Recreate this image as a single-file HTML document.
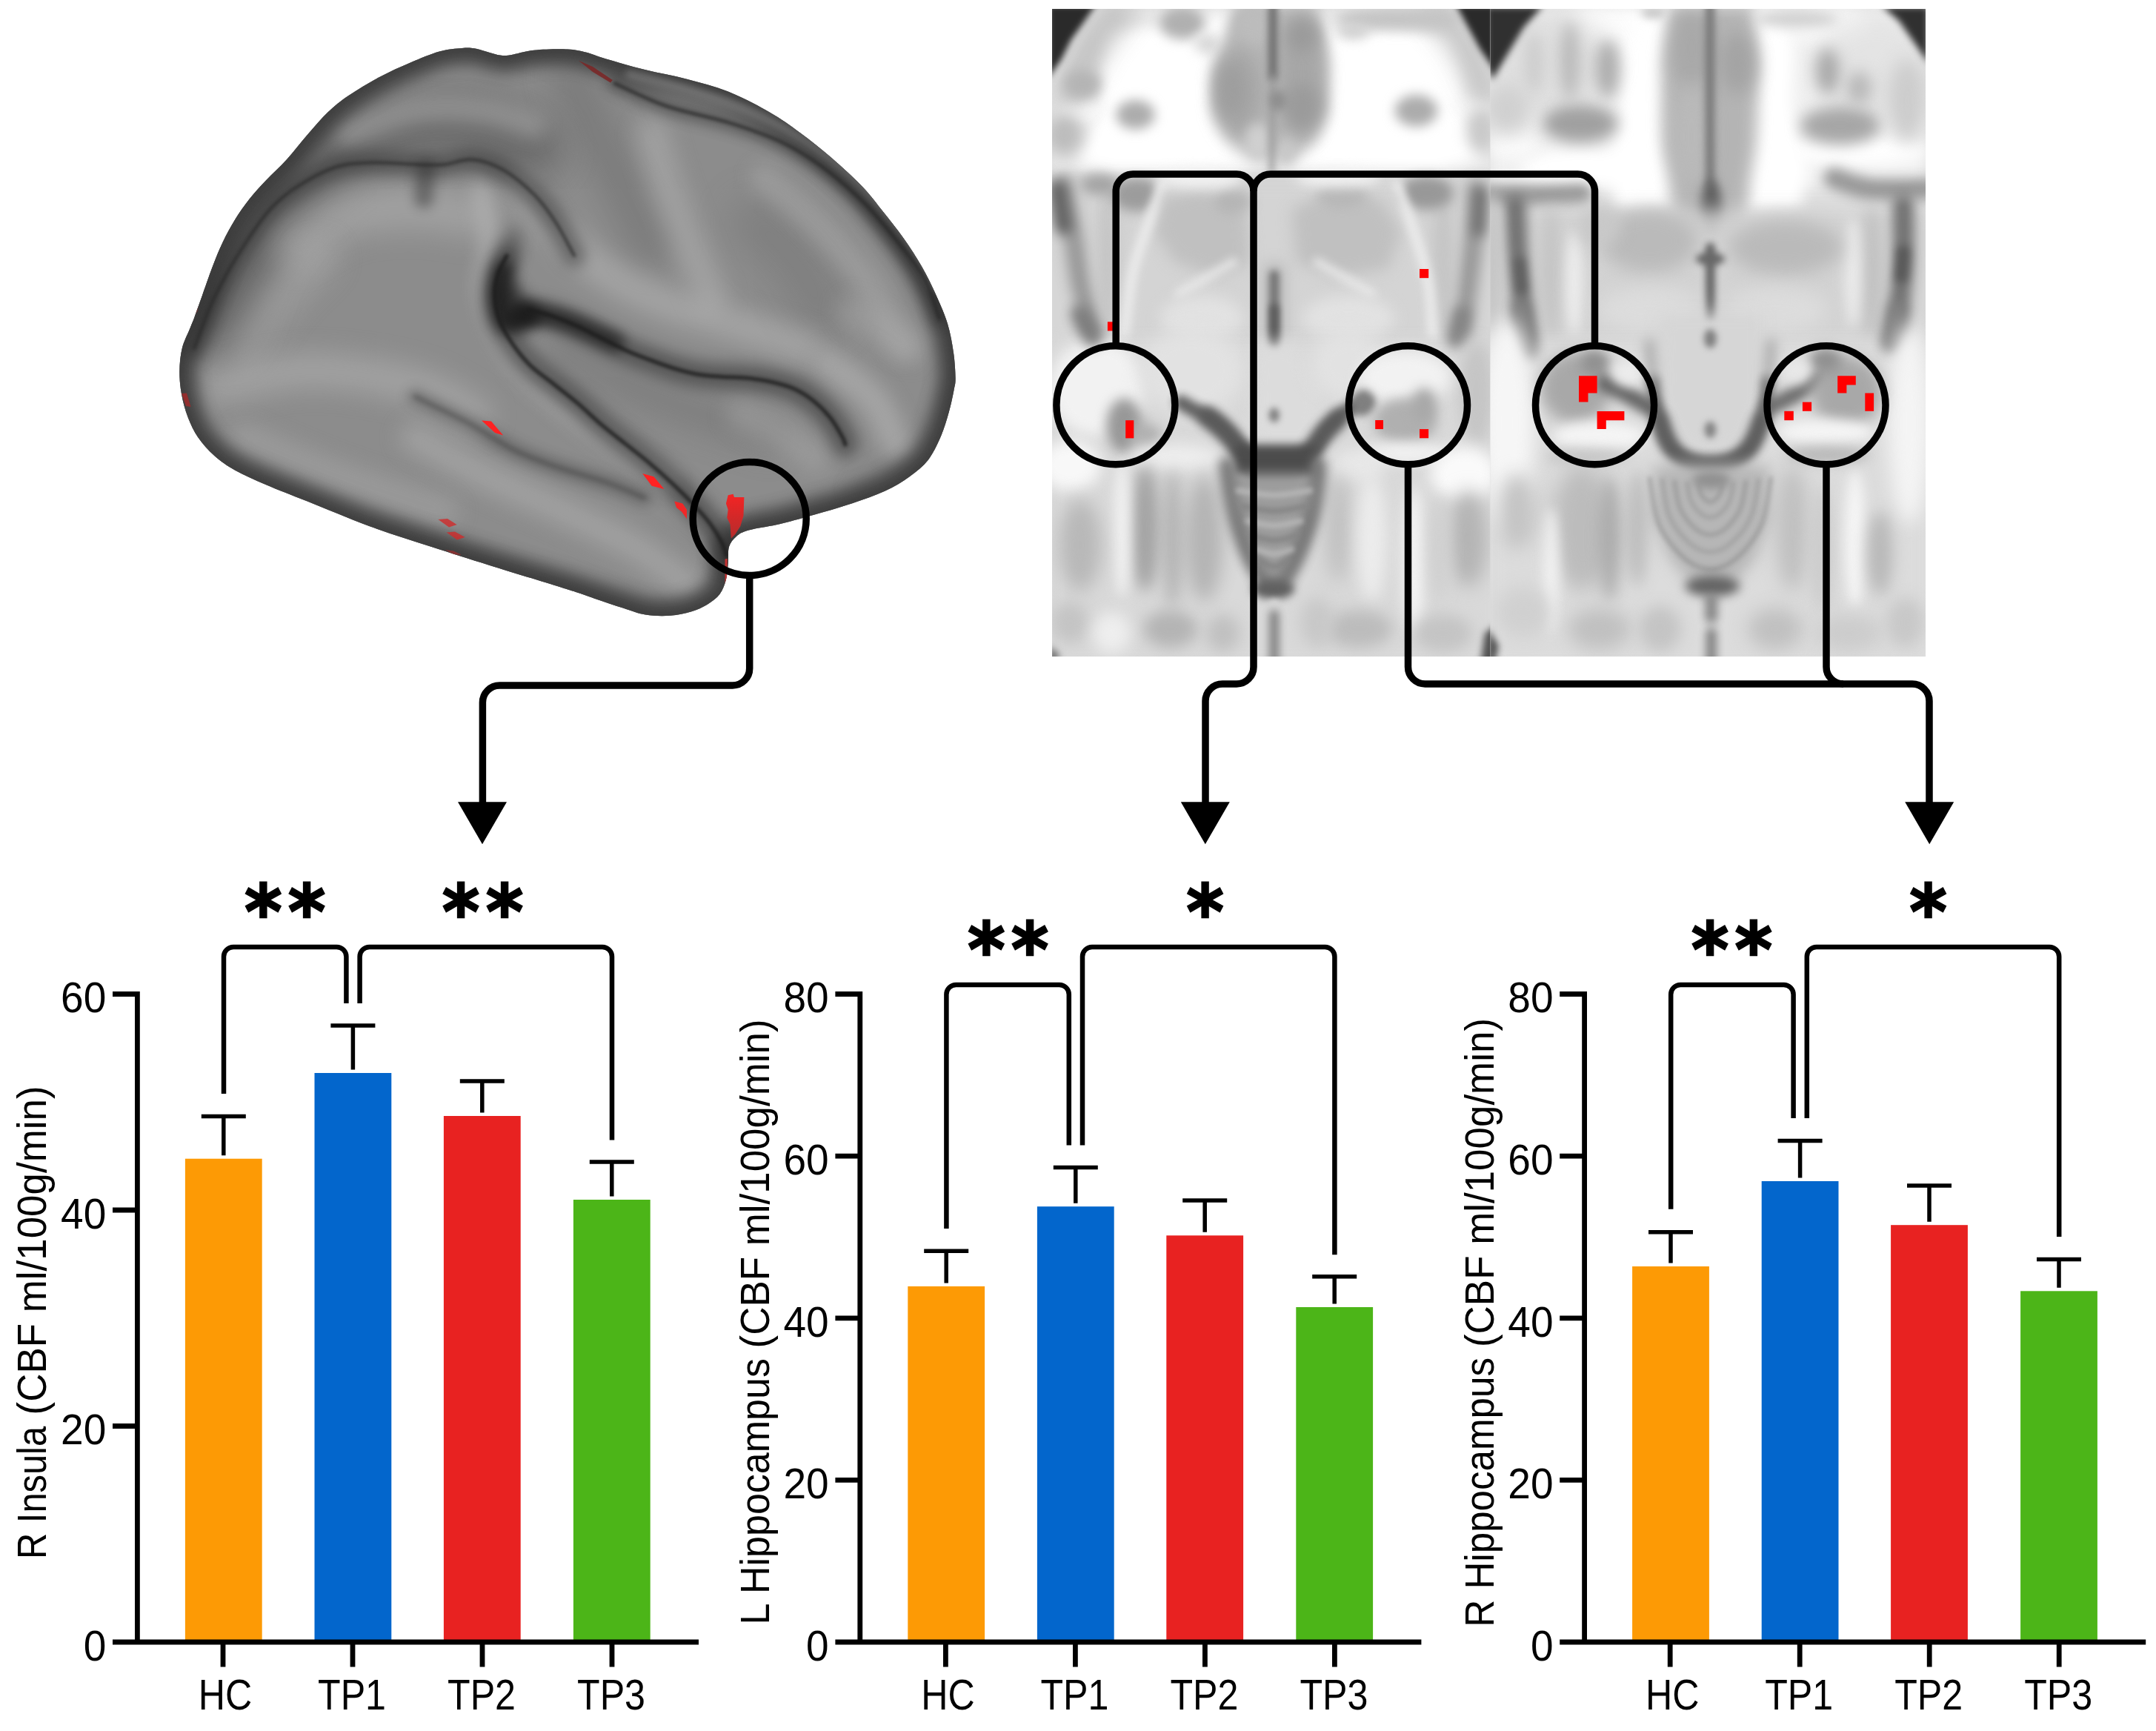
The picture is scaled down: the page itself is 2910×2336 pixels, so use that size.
<!DOCTYPE html>
<html><head><meta charset="utf-8"><title>CBF figure</title>
<style>html,body{margin:0;padding:0;background:#fff}svg{display:block}</style></head>
<body>
<svg width="2910" height="2336" viewBox="0 0 2910 2336">
<defs><filter id="b1" filterUnits="userSpaceOnUse" x="180" y="0" width="1180" height="900" color-interpolation-filters="sRGB"><feGaussianBlur stdDeviation="1"/></filter><filter id="b2" filterUnits="userSpaceOnUse" x="180" y="0" width="1180" height="900" color-interpolation-filters="sRGB"><feGaussianBlur stdDeviation="2"/></filter><filter id="b3" filterUnits="userSpaceOnUse" x="180" y="0" width="1180" height="900" color-interpolation-filters="sRGB"><feGaussianBlur stdDeviation="3"/></filter><filter id="b4" filterUnits="userSpaceOnUse" x="180" y="0" width="1180" height="900" color-interpolation-filters="sRGB"><feGaussianBlur stdDeviation="4"/></filter><filter id="b5" filterUnits="userSpaceOnUse" x="180" y="0" width="1180" height="900" color-interpolation-filters="sRGB"><feGaussianBlur stdDeviation="5"/></filter><filter id="b6" filterUnits="userSpaceOnUse" x="180" y="0" width="1180" height="900" color-interpolation-filters="sRGB"><feGaussianBlur stdDeviation="6"/></filter><filter id="b7" filterUnits="userSpaceOnUse" x="180" y="0" width="1180" height="900" color-interpolation-filters="sRGB"><feGaussianBlur stdDeviation="7"/></filter><filter id="b8" filterUnits="userSpaceOnUse" x="180" y="0" width="1180" height="900" color-interpolation-filters="sRGB"><feGaussianBlur stdDeviation="8"/></filter><filter id="b9" filterUnits="userSpaceOnUse" x="180" y="0" width="1180" height="900" color-interpolation-filters="sRGB"><feGaussianBlur stdDeviation="9"/></filter><filter id="b10" filterUnits="userSpaceOnUse" x="180" y="0" width="1180" height="900" color-interpolation-filters="sRGB"><feGaussianBlur stdDeviation="10"/></filter><filter id="b12" filterUnits="userSpaceOnUse" x="180" y="0" width="1180" height="900" color-interpolation-filters="sRGB"><feGaussianBlur stdDeviation="12"/></filter><filter id="b14" filterUnits="userSpaceOnUse" x="180" y="0" width="1180" height="900" color-interpolation-filters="sRGB"><feGaussianBlur stdDeviation="14"/></filter><filter id="b16" filterUnits="userSpaceOnUse" x="180" y="0" width="1180" height="900" color-interpolation-filters="sRGB"><feGaussianBlur stdDeviation="16"/></filter><filter id="b18" filterUnits="userSpaceOnUse" x="180" y="0" width="1180" height="900" color-interpolation-filters="sRGB"><feGaussianBlur stdDeviation="18"/></filter><filter id="b20" filterUnits="userSpaceOnUse" x="180" y="0" width="1180" height="900" color-interpolation-filters="sRGB"><feGaussianBlur stdDeviation="20"/></filter><filter id="b24" filterUnits="userSpaceOnUse" x="180" y="0" width="1180" height="900" color-interpolation-filters="sRGB"><feGaussianBlur stdDeviation="24"/></filter><filter id="b28" filterUnits="userSpaceOnUse" x="180" y="0" width="1180" height="900" color-interpolation-filters="sRGB"><feGaussianBlur stdDeviation="28"/></filter><filter id="b32" filterUnits="userSpaceOnUse" x="180" y="0" width="1180" height="900" color-interpolation-filters="sRGB"><feGaussianBlur stdDeviation="32"/></filter><filter id="b40" filterUnits="userSpaceOnUse" x="180" y="0" width="1180" height="900" color-interpolation-filters="sRGB"><feGaussianBlur stdDeviation="40"/></filter><filter id="m1" filterUnits="userSpaceOnUse" x="1360" y="-50" width="1300" height="1000" color-interpolation-filters="sRGB"><feGaussianBlur stdDeviation="1"/></filter><filter id="m2" filterUnits="userSpaceOnUse" x="1360" y="-50" width="1300" height="1000" color-interpolation-filters="sRGB"><feGaussianBlur stdDeviation="2"/></filter><filter id="m3" filterUnits="userSpaceOnUse" x="1360" y="-50" width="1300" height="1000" color-interpolation-filters="sRGB"><feGaussianBlur stdDeviation="3"/></filter><filter id="m4" filterUnits="userSpaceOnUse" x="1360" y="-50" width="1300" height="1000" color-interpolation-filters="sRGB"><feGaussianBlur stdDeviation="4"/></filter><filter id="m5" filterUnits="userSpaceOnUse" x="1360" y="-50" width="1300" height="1000" color-interpolation-filters="sRGB"><feGaussianBlur stdDeviation="5"/></filter><filter id="m6" filterUnits="userSpaceOnUse" x="1360" y="-50" width="1300" height="1000" color-interpolation-filters="sRGB"><feGaussianBlur stdDeviation="6"/></filter><filter id="m7" filterUnits="userSpaceOnUse" x="1360" y="-50" width="1300" height="1000" color-interpolation-filters="sRGB"><feGaussianBlur stdDeviation="7"/></filter><filter id="m8" filterUnits="userSpaceOnUse" x="1360" y="-50" width="1300" height="1000" color-interpolation-filters="sRGB"><feGaussianBlur stdDeviation="8"/></filter><filter id="m9" filterUnits="userSpaceOnUse" x="1360" y="-50" width="1300" height="1000" color-interpolation-filters="sRGB"><feGaussianBlur stdDeviation="9"/></filter><filter id="m10" filterUnits="userSpaceOnUse" x="1360" y="-50" width="1300" height="1000" color-interpolation-filters="sRGB"><feGaussianBlur stdDeviation="10"/></filter><filter id="m12" filterUnits="userSpaceOnUse" x="1360" y="-50" width="1300" height="1000" color-interpolation-filters="sRGB"><feGaussianBlur stdDeviation="12"/></filter><filter id="m14" filterUnits="userSpaceOnUse" x="1360" y="-50" width="1300" height="1000" color-interpolation-filters="sRGB"><feGaussianBlur stdDeviation="14"/></filter><filter id="m16" filterUnits="userSpaceOnUse" x="1360" y="-50" width="1300" height="1000" color-interpolation-filters="sRGB"><feGaussianBlur stdDeviation="16"/></filter><filter id="m18" filterUnits="userSpaceOnUse" x="1360" y="-50" width="1300" height="1000" color-interpolation-filters="sRGB"><feGaussianBlur stdDeviation="18"/></filter><filter id="m20" filterUnits="userSpaceOnUse" x="1360" y="-50" width="1300" height="1000" color-interpolation-filters="sRGB"><feGaussianBlur stdDeviation="20"/></filter><filter id="m24" filterUnits="userSpaceOnUse" x="1360" y="-50" width="1300" height="1000" color-interpolation-filters="sRGB"><feGaussianBlur stdDeviation="24"/></filter><filter id="m28" filterUnits="userSpaceOnUse" x="1360" y="-50" width="1300" height="1000" color-interpolation-filters="sRGB"><feGaussianBlur stdDeviation="28"/></filter><filter id="m32" filterUnits="userSpaceOnUse" x="1360" y="-50" width="1300" height="1000" color-interpolation-filters="sRGB"><feGaussianBlur stdDeviation="32"/></filter><filter id="m40" filterUnits="userSpaceOnUse" x="1360" y="-50" width="1300" height="1000" color-interpolation-filters="sRGB"><feGaussianBlur stdDeviation="40"/></filter></defs>
<rect width="2910" height="2336" fill="#fff"/>
<g id="brain">
<clipPath id="bc"><path d="M623.6 65.0C631.4 64.3 634.6 64.5 640.0 65.3C645.4 66.0 649.9 67.9 656.0 69.5C662.1 71.1 670.2 74.1 676.4 74.8C682.6 75.5 685.6 74.6 693.0 73.4C700.4 72.2 708.9 69.0 721.0 67.8C733.1 66.6 753.9 66.0 765.5 66.5C777.1 67.0 781.8 68.4 790.5 70.6C799.2 72.8 804.5 75.5 818.0 79.5C831.5 83.5 853.1 89.8 871.3 94.3C889.5 98.8 908.4 101.9 927.0 106.8C945.6 111.7 964.2 116.1 982.7 123.5C1001.2 130.9 1022.1 142.0 1038.3 151.3C1054.5 160.6 1066.1 169.0 1080.0 179.2C1093.9 189.4 1107.9 200.5 1121.8 212.6C1135.7 224.7 1152.0 239.4 1163.6 251.5C1175.2 263.6 1182.1 273.4 1191.4 285.0C1200.7 296.6 1210.4 308.5 1219.2 321.0C1228.0 333.5 1236.9 347.0 1244.3 360.0C1251.7 373.0 1258.0 386.2 1263.8 399.0C1269.6 411.8 1275.1 424.2 1279.0 437.0C1282.9 449.8 1285.2 463.8 1287.0 476.0C1288.8 488.2 1289.5 501.5 1289.6 510.0C1289.7 518.5 1288.9 519.2 1287.4 527.0C1285.9 534.8 1283.5 546.4 1280.5 556.9C1277.5 567.4 1274.0 579.6 1269.3 590.3C1264.6 601.0 1259.5 612.1 1252.6 620.9C1245.6 629.7 1237.3 636.2 1227.6 643.2C1217.9 650.2 1207.2 656.7 1194.2 662.7C1181.2 668.7 1166.3 673.9 1149.6 679.4C1132.9 684.9 1110.2 691.4 1094.0 696.0C1077.8 700.6 1066.1 704.0 1052.2 707.2C1038.3 710.5 1020.2 712.7 1010.5 715.5C1000.8 718.3 998.2 720.2 993.8 723.9C989.4 727.6 985.9 731.8 984.0 737.8C982.1 743.8 983.4 752.6 982.7 760.0C982.0 767.4 981.8 775.3 979.9 782.3C978.0 789.3 975.7 796.2 971.5 801.8C967.3 807.4 961.3 811.8 954.8 815.7C948.3 819.7 941.0 823.0 932.6 825.5C924.2 828.0 914.9 830.1 904.7 830.8C894.5 831.5 881.9 831.3 871.3 829.6C860.7 827.9 852.6 824.2 841.0 820.5C829.4 816.8 815.7 812.1 801.7 807.4C787.7 802.7 780.5 799.9 757.0 792.5C733.5 785.1 690.2 772.1 661.0 763.0C631.8 753.9 608.9 746.6 581.8 737.8C554.7 729.0 526.1 720.2 498.3 710.0C470.5 699.8 438.0 685.9 414.8 676.6C391.6 667.3 375.4 661.3 359.2 654.3C343.0 647.3 329.0 641.3 317.4 634.8C305.8 628.3 298.0 622.7 289.6 615.3C281.2 607.9 273.3 599.1 267.3 590.3C261.3 581.5 257.1 572.2 253.4 562.5C249.7 552.8 246.8 542.0 245.0 531.8C243.2 521.6 242.2 511.5 242.3 501.2C242.4 490.9 243.4 479.7 245.8 470.0C248.2 460.3 253.7 450.0 256.5 443.0C259.3 436.0 259.8 435.3 262.5 428.0C265.2 420.7 268.8 410.3 272.9 399.0C276.9 387.7 282.2 372.1 286.8 360.0C291.4 347.9 295.6 337.4 300.7 326.7C305.8 316.0 311.4 305.8 317.4 296.0C323.4 286.2 329.9 277.0 336.9 268.2C343.9 259.4 350.8 252.0 359.2 243.2C367.6 234.4 377.7 225.5 387.0 215.3C396.3 205.1 405.5 192.7 414.8 182.0C424.1 171.3 433.4 160.1 442.7 151.3C452.0 142.5 458.9 136.9 470.5 129.0C482.1 121.1 498.3 111.4 512.2 104.0C526.1 96.6 540.5 90.2 554.0 84.5C567.5 78.8 581.4 72.8 593.0 69.5C604.6 66.2 615.8 65.7 623.6 65.0Z"/></clipPath>
<g clip-path="url(#bc)">
<rect x="230" y="50" width="1080" height="800" fill="#8c8c8c"/>
<path d="M300.0 440.0C306.7 423.3 323.3 370.0 340.0 340.0C356.7 310.0 378.3 283.3 400.0 260.0C421.7 236.7 443.3 215.0 470.0 200.0C496.7 185.0 530.0 175.0 560.0 170.0C590.0 165.0 623.3 165.0 650.0 170.0C676.7 175.0 708.3 195.0 720.0 200.0" fill="none" stroke="#505050" stroke-width="80" stroke-linecap="round" opacity="0.55" filter="url(#b24)"/>
<path d="M770.0 100.0C775.0 111.7 788.3 145.0 800.0 170.0C811.7 195.0 826.7 223.3 840.0 250.0C853.3 276.7 873.3 316.7 880.0 330.0" fill="none" stroke="#6a6a6a" stroke-width="60" stroke-linecap="round" opacity="0.45" filter="url(#b20)"/>
<path d="M760.0 470.0C775.0 478.3 818.3 505.0 850.0 520.0C881.7 535.0 918.3 548.3 950.0 560.0C981.7 571.7 1025.0 585.0 1040.0 590.0" fill="none" stroke="#6a6a6a" stroke-width="50" stroke-linecap="round" opacity="0.35" filter="url(#b18)"/>
<path d="M1020.0 300.0C1030.0 310.0 1065.0 340.0 1080.0 360.0C1095.0 380.0 1105.0 410.0 1110.0 420.0" fill="none" stroke="#6a6a6a" stroke-width="70" stroke-linecap="round" opacity="0.35" filter="url(#b24)"/>
<path d="M500.0 735.0C533.3 744.2 640.0 773.3 700.0 790.0C760.0 806.7 833.3 827.5 860.0 835.0" fill="none" stroke="#6a6a6a" stroke-width="40" stroke-linecap="round" opacity="0.4" filter="url(#b14)"/>
<path d="M1160.0 660.0C1175.0 650.0 1229.2 623.3 1250.0 600.0C1270.8 576.7 1279.2 533.3 1285.0 520.0" fill="none" stroke="#6a6a6a" stroke-width="30" stroke-linecap="round" opacity="0.3" filter="url(#b12)"/>
<path d="M470.0 180.0C485.0 175.0 530.0 155.0 560.0 150.0C590.0 145.0 623.3 146.7 650.0 150.0C676.7 153.3 708.3 166.7 720.0 170.0" fill="none" stroke="#b4b4b4" stroke-width="34" stroke-linecap="round" opacity="0.45" filter="url(#b12)"/>
<path d="M400.0 330.0C411.7 323.3 443.3 298.3 470.0 290.0C496.7 281.7 531.7 280.0 560.0 280.0C588.3 280.0 626.7 288.3 640.0 290.0" fill="none" stroke="#b4b4b4" stroke-width="60" stroke-linecap="round" opacity="0.5" filter="url(#b18)"/>
<path d="M330.0 470.0C338.3 458.3 363.3 420.0 380.0 400.0C396.7 380.0 421.7 358.3 430.0 350.0" fill="none" stroke="#b4b4b4" stroke-width="50" stroke-linecap="round" opacity="0.4" filter="url(#b18)"/>
<path d="M650.0 260.0C651.7 271.7 659.2 306.7 660.0 330.0C660.8 353.3 650.0 375.0 655.0 400.0C660.0 425.0 674.2 456.7 690.0 480.0C705.8 503.3 726.7 520.0 750.0 540.0C773.3 560.0 805.0 581.7 830.0 600.0C855.0 618.3 888.3 641.7 900.0 650.0" fill="none" stroke="#b4b4b4" stroke-width="30" stroke-linecap="round" opacity="0.6" filter="url(#b10)"/>
<path d="M300.0 520.0C320.0 516.7 376.7 500.0 420.0 500.0C463.3 500.0 523.3 510.0 560.0 520.0C596.7 530.0 626.7 553.3 640.0 560.0" fill="none" stroke="#b4b4b4" stroke-width="50" stroke-linecap="round" opacity="0.5" filter="url(#b16)"/>
<path d="M560.0 590.0C575.0 598.3 616.7 623.3 650.0 640.0C683.3 656.7 725.0 673.3 760.0 690.0C795.0 706.7 831.7 723.3 860.0 740.0C888.3 756.7 918.3 781.7 930.0 790.0" fill="none" stroke="#b4b4b4" stroke-width="40" stroke-linecap="round" opacity="0.5" filter="url(#b14)"/>
<path d="M330.0 590.0C350.0 598.3 405.0 623.3 450.0 640.0C495.0 656.7 575.0 681.7 600.0 690.0" fill="none" stroke="#b4b4b4" stroke-width="40" stroke-linecap="round" opacity="0.35" filter="url(#b14)"/>
<path d="M760.0 320.0C770.0 328.3 796.7 355.0 820.0 370.0C843.3 385.0 870.0 398.3 900.0 410.0C930.0 421.7 968.3 430.0 1000.0 440.0C1031.7 450.0 1075.0 465.0 1090.0 470.0" fill="none" stroke="#b4b4b4" stroke-width="46" stroke-linecap="round" opacity="0.55" filter="url(#b14)"/>
<path d="M1120.0 490.0C1130.0 498.3 1165.0 521.7 1180.0 540.0C1195.0 558.3 1205.0 590.0 1210.0 600.0" fill="none" stroke="#b4b4b4" stroke-width="40" stroke-linecap="round" opacity="0.6" filter="url(#b12)"/>
<path d="M880.0 180.0C883.3 191.7 891.7 225.0 900.0 250.0C908.3 275.0 920.0 305.0 930.0 330.0C940.0 355.0 955.0 388.3 960.0 400.0" fill="none" stroke="#b4b4b4" stroke-width="44" stroke-linecap="round" opacity="0.5" filter="url(#b14)"/>
<path d="M1030.0 240.0C1041.7 250.0 1076.7 276.7 1100.0 300.0C1123.3 323.3 1150.0 351.7 1170.0 380.0C1190.0 408.3 1211.7 455.0 1220.0 470.0" fill="none" stroke="#b4b4b4" stroke-width="36" stroke-linecap="round" opacity="0.4" filter="url(#b12)"/>
<path d="M1000.0 560.0C1010.0 565.0 1043.3 580.0 1060.0 590.0C1076.7 600.0 1093.3 615.0 1100.0 620.0" fill="none" stroke="#b4b4b4" stroke-width="40" stroke-linecap="round" opacity="0.35" filter="url(#b14)"/>
<path d="M700.0 250.0C705.0 258.3 725.0 291.7 730.0 300.0" fill="none" stroke="#b4b4b4" stroke-width="40" stroke-linecap="round" opacity="0.4" filter="url(#b14)"/>
<path d="M1150.0 420.0C1163.3 428.3 1216.7 461.7 1230.0 470.0" fill="none" stroke="#b4b4b4" stroke-width="40" stroke-linecap="round" opacity="0.35" filter="url(#b14)"/>
<path d="M623.6 65.0C631.4 64.3 634.6 64.5 640.0 65.3C645.4 66.0 649.9 67.9 656.0 69.5C662.1 71.1 670.2 74.1 676.4 74.8C682.6 75.5 685.6 74.6 693.0 73.4C700.4 72.2 708.9 69.0 721.0 67.8C733.1 66.6 753.9 66.0 765.5 66.5C777.1 67.0 781.8 68.4 790.5 70.6C799.2 72.8 804.5 75.5 818.0 79.5C831.5 83.5 853.1 89.8 871.3 94.3C889.5 98.8 908.4 101.9 927.0 106.8C945.6 111.7 964.2 116.1 982.7 123.5C1001.2 130.9 1022.1 142.0 1038.3 151.3C1054.5 160.6 1066.1 169.0 1080.0 179.2C1093.9 189.4 1107.9 200.5 1121.8 212.6C1135.7 224.7 1152.0 239.4 1163.6 251.5C1175.2 263.6 1182.1 273.4 1191.4 285.0C1200.7 296.6 1210.4 308.5 1219.2 321.0C1228.0 333.5 1236.9 347.0 1244.3 360.0C1251.7 373.0 1258.0 386.2 1263.8 399.0C1269.6 411.8 1275.1 424.2 1279.0 437.0C1282.9 449.8 1285.2 463.8 1287.0 476.0C1288.8 488.2 1289.5 501.5 1289.6 510.0C1289.7 518.5 1288.9 519.2 1287.4 527.0C1285.9 534.8 1283.5 546.4 1280.5 556.9C1277.5 567.4 1274.0 579.6 1269.3 590.3C1264.6 601.0 1259.5 612.1 1252.6 620.9C1245.6 629.7 1237.3 636.2 1227.6 643.2C1217.9 650.2 1207.2 656.7 1194.2 662.7C1181.2 668.7 1166.3 673.9 1149.6 679.4C1132.9 684.9 1110.2 691.4 1094.0 696.0C1077.8 700.6 1066.1 704.0 1052.2 707.2C1038.3 710.5 1020.2 712.7 1010.5 715.5C1000.8 718.3 998.2 720.2 993.8 723.9C989.4 727.6 985.9 731.8 984.0 737.8C982.1 743.8 983.4 752.6 982.7 760.0C982.0 767.4 981.8 775.3 979.9 782.3C978.0 789.3 975.7 796.2 971.5 801.8C967.3 807.4 961.3 811.8 954.8 815.7C948.3 819.7 941.0 823.0 932.6 825.5C924.2 828.0 914.9 830.1 904.7 830.8C894.5 831.5 881.9 831.3 871.3 829.6C860.7 827.9 852.6 824.2 841.0 820.5C829.4 816.8 815.7 812.1 801.7 807.4C787.7 802.7 780.5 799.9 757.0 792.5C733.5 785.1 690.2 772.1 661.0 763.0C631.8 753.9 608.9 746.6 581.8 737.8C554.7 729.0 526.1 720.2 498.3 710.0C470.5 699.8 438.0 685.9 414.8 676.6C391.6 667.3 375.4 661.3 359.2 654.3C343.0 647.3 329.0 641.3 317.4 634.8C305.8 628.3 298.0 622.7 289.6 615.3C281.2 607.9 273.3 599.1 267.3 590.3C261.3 581.5 257.1 572.2 253.4 562.5C249.7 552.8 246.8 542.0 245.0 531.8C243.2 521.6 242.2 511.5 242.3 501.2C242.4 490.9 243.4 479.7 245.8 470.0C248.2 460.3 253.7 450.0 256.5 443.0C259.3 436.0 259.8 435.3 262.5 428.0C265.2 420.7 268.8 410.3 272.9 399.0C276.9 387.7 282.2 372.1 286.8 360.0C291.4 347.9 295.6 337.4 300.7 326.7C305.8 316.0 311.4 305.8 317.4 296.0C323.4 286.2 329.9 277.0 336.9 268.2C343.9 259.4 350.8 252.0 359.2 243.2C367.6 234.4 377.7 225.5 387.0 215.3C396.3 205.1 405.5 192.7 414.8 182.0C424.1 171.3 433.4 160.1 442.7 151.3C452.0 142.5 458.9 136.9 470.5 129.0C482.1 121.1 498.3 111.4 512.2 104.0C526.1 96.6 540.5 90.2 554.0 84.5C567.5 78.8 581.4 72.8 593.0 69.5C604.6 66.2 615.8 65.7 623.6 65.0Z" fill="none" stroke="#383838" stroke-width="44" filter="url(#b10)" opacity="0.85"/>
<path d="M623.6 65.0C631.4 64.3 634.6 64.5 640.0 65.3C645.4 66.0 649.9 67.9 656.0 69.5C662.1 71.1 670.2 74.1 676.4 74.8C682.6 75.5 685.6 74.6 693.0 73.4C700.4 72.2 708.9 69.0 721.0 67.8C733.1 66.6 753.9 66.0 765.5 66.5C777.1 67.0 781.8 68.4 790.5 70.6C799.2 72.8 804.5 75.5 818.0 79.5C831.5 83.5 853.1 89.8 871.3 94.3C889.5 98.8 908.4 101.9 927.0 106.8C945.6 111.7 964.2 116.1 982.7 123.5C1001.2 130.9 1022.1 142.0 1038.3 151.3C1054.5 160.6 1066.1 169.0 1080.0 179.2C1093.9 189.4 1107.9 200.5 1121.8 212.6C1135.7 224.7 1152.0 239.4 1163.6 251.5C1175.2 263.6 1182.1 273.4 1191.4 285.0C1200.7 296.6 1210.4 308.5 1219.2 321.0C1228.0 333.5 1236.9 347.0 1244.3 360.0C1251.7 373.0 1258.0 386.2 1263.8 399.0C1269.6 411.8 1275.1 424.2 1279.0 437.0C1282.9 449.8 1285.2 463.8 1287.0 476.0C1288.8 488.2 1289.5 501.5 1289.6 510.0C1289.7 518.5 1288.9 519.2 1287.4 527.0C1285.9 534.8 1283.5 546.4 1280.5 556.9C1277.5 567.4 1274.0 579.6 1269.3 590.3C1264.6 601.0 1259.5 612.1 1252.6 620.9C1245.6 629.7 1237.3 636.2 1227.6 643.2C1217.9 650.2 1207.2 656.7 1194.2 662.7C1181.2 668.7 1166.3 673.9 1149.6 679.4C1132.9 684.9 1110.2 691.4 1094.0 696.0C1077.8 700.6 1066.1 704.0 1052.2 707.2C1038.3 710.5 1020.2 712.7 1010.5 715.5C1000.8 718.3 998.2 720.2 993.8 723.9C989.4 727.6 985.9 731.8 984.0 737.8C982.1 743.8 983.4 752.6 982.7 760.0C982.0 767.4 981.8 775.3 979.9 782.3C978.0 789.3 975.7 796.2 971.5 801.8C967.3 807.4 961.3 811.8 954.8 815.7C948.3 819.7 941.0 823.0 932.6 825.5C924.2 828.0 914.9 830.1 904.7 830.8C894.5 831.5 881.9 831.3 871.3 829.6C860.7 827.9 852.6 824.2 841.0 820.5C829.4 816.8 815.7 812.1 801.7 807.4C787.7 802.7 780.5 799.9 757.0 792.5C733.5 785.1 690.2 772.1 661.0 763.0C631.8 753.9 608.9 746.6 581.8 737.8C554.7 729.0 526.1 720.2 498.3 710.0C470.5 699.8 438.0 685.9 414.8 676.6C391.6 667.3 375.4 661.3 359.2 654.3C343.0 647.3 329.0 641.3 317.4 634.8C305.8 628.3 298.0 622.7 289.6 615.3C281.2 607.9 273.3 599.1 267.3 590.3C261.3 581.5 257.1 572.2 253.4 562.5C249.7 552.8 246.8 542.0 245.0 531.8C243.2 521.6 242.2 511.5 242.3 501.2C242.4 490.9 243.4 479.7 245.8 470.0C248.2 460.3 253.7 450.0 256.5 443.0C259.3 436.0 259.8 435.3 262.5 428.0C265.2 420.7 268.8 410.3 272.9 399.0C276.9 387.7 282.2 372.1 286.8 360.0C291.4 347.9 295.6 337.4 300.7 326.7C305.8 316.0 311.4 305.8 317.4 296.0C323.4 286.2 329.9 277.0 336.9 268.2C343.9 259.4 350.8 252.0 359.2 243.2C367.6 234.4 377.7 225.5 387.0 215.3C396.3 205.1 405.5 192.7 414.8 182.0C424.1 171.3 433.4 160.1 442.7 151.3C452.0 142.5 458.9 136.9 470.5 129.0C482.1 121.1 498.3 111.4 512.2 104.0C526.1 96.6 540.5 90.2 554.0 84.5C567.5 78.8 581.4 72.8 593.0 69.5C604.6 66.2 615.8 65.7 623.6 65.0Z" fill="none" stroke="#404040" stroke-width="10" filter="url(#b3)" opacity="0.7"/>
<path d="M850.0 101.0C863.3 104.5 903.3 113.8 930.0 122.0C956.7 130.2 986.3 140.0 1010.0 150.0C1033.7 160.0 1051.7 169.7 1072.0 182.0C1092.3 194.3 1113.5 209.0 1132.0 224.0C1150.5 239.0 1167.2 255.0 1183.0 272.0C1198.8 289.0 1214.2 306.7 1227.0 326.0C1239.8 345.3 1254.5 377.7 1260.0 388.0" fill="none" stroke="#8c8c8c" stroke-width="13" stroke-linecap="round" opacity="0.55" filter="url(#b5)"/>
<path d="M262.0 470.0C266.7 458.3 278.7 423.3 290.0 400.0C301.3 376.7 315.7 351.5 330.0 330.0C344.3 308.5 357.2 287.8 376.0 271.0C394.8 254.2 422.3 237.9 442.7 229.3C463.1 220.7 477.4 220.7 498.3 219.5C519.2 218.3 550.9 221.9 567.9 222.3C584.9 222.7 588.4 223.2 600.0 222.0C611.6 220.8 624.3 214.1 637.5 215.3C650.7 216.5 665.3 221.4 679.2 229.3C693.1 237.2 709.2 250.9 721.0 262.7C732.8 274.5 741.0 286.3 750.0 300.0C759.0 313.7 770.8 337.5 775.0 345.0" fill="none" stroke="#2c2c2c" stroke-width="30" stroke-linecap="round" opacity="0.5" filter="url(#b10)"/>
<path d="M829.6 112.4C841.2 117.5 873.5 134.2 899.0 143.0C924.5 151.8 957.2 157.3 982.7 165.2C1008.2 173.1 1031.1 180.6 1052.0 190.3C1072.9 200.1 1089.3 210.2 1107.9 223.7C1126.5 237.1 1147.4 255.2 1163.6 271.0C1179.8 286.8 1191.4 301.1 1205.3 318.3C1219.2 335.5 1236.5 355.4 1247.0 374.0C1257.5 392.6 1264.5 420.7 1268.0 430.0" fill="none" stroke="#2c2c2c" stroke-width="22" stroke-linecap="round" opacity="0.45" filter="url(#b8)"/>
<path d="M684.0 345.0C682.1 349.0 675.3 360.5 672.6 368.8C669.9 377.1 668.0 385.1 668.0 394.8C668.0 404.6 669.1 416.5 672.6 427.3C676.1 438.1 681.8 448.9 688.8 459.7C695.8 470.5 705.0 482.4 714.8 492.2C724.5 501.9 736.5 509.5 747.3 518.2C758.1 526.9 768.9 535.0 779.7 544.2C790.5 553.4 801.4 564.2 812.2 573.4C823.0 582.6 833.9 590.8 844.7 599.4C855.5 608.0 866.3 616.1 877.1 625.3C887.9 634.5 899.9 645.3 909.6 654.5C919.4 663.7 927.5 671.8 935.6 680.5C943.7 689.2 951.8 697.8 958.3 706.5C964.8 715.2 970.7 725.2 974.5 732.5C978.3 739.8 979.9 747.1 981.0 750.0" fill="none" stroke="#2c2c2c" stroke-width="34" stroke-linecap="round" opacity="0.55" filter="url(#b10)"/>
<path d="M712.0 418.0C714.2 418.5 719.1 419.4 725.0 421.0C730.9 422.6 738.2 424.1 747.3 427.3C756.4 430.5 768.9 435.4 779.7 440.3C790.5 445.2 801.4 451.1 812.2 456.5C823.0 461.9 833.9 467.8 844.7 472.7C855.5 477.6 866.3 481.6 877.1 485.7C887.9 489.8 898.8 493.9 909.6 497.1C920.4 500.4 931.3 503.3 942.1 505.2C952.9 507.1 963.7 507.6 974.5 508.4C985.3 509.2 996.2 509.0 1007.0 510.1C1017.8 511.2 1028.7 512.6 1039.5 515.0C1050.3 517.4 1062.2 520.4 1071.9 524.7C1081.6 529.0 1089.8 534.4 1097.9 540.9C1106.0 547.4 1114.1 555.5 1120.6 563.6C1127.1 571.7 1133.5 583.5 1136.9 589.6C1140.3 595.7 1140.3 598.3 1141.0 600.0" fill="none" stroke="#2c2c2c" stroke-width="34" stroke-linecap="round" opacity="0.55" filter="url(#b10)"/>
<path d="M560.0 535.0C563.6 536.8 568.9 539.4 581.8 545.8C594.7 552.2 619.0 563.4 637.5 573.6C656.0 583.8 674.6 597.7 693.1 607.0C711.6 616.3 727.6 621.8 748.8 629.2C769.9 636.6 799.8 644.4 820.0 651.5C840.2 658.6 861.7 668.6 870.0 672.0" fill="none" stroke="#2c2c2c" stroke-width="20" stroke-linecap="round" opacity="0.35" filter="url(#b8)"/>
<path d="M575.0 228.0C574.7 231.7 573.5 243.3 573.0 250.0C572.5 256.7 572.2 265.0 572.0 268.0" fill="none" stroke="#2c2c2c" stroke-width="26" stroke-linecap="round" opacity="0.45" filter="url(#b8)"/>
<path d="M693.0 320.0C691.8 323.3 687.2 336.7 686.0 340.0" fill="none" stroke="#2c2c2c" stroke-width="26" stroke-linecap="round" opacity="0.3" filter="url(#b10)"/>
<path d="M680.0 365.0C679.0 370.8 673.3 388.3 674.0 400.0C674.7 411.7 677.2 430.3 684.0 435.0C690.8 439.7 709.8 429.2 715.0 428.0" fill="none" stroke="#161616" stroke-width="30" stroke-linecap="round" opacity="0.8" filter="url(#b9)"/>
<path d="M690.0 395.0C691.7 400.0 698.3 420.0 700.0 425.0" fill="none" stroke="#161616" stroke-width="30" stroke-linecap="round" opacity="0.6" filter="url(#b10)"/>
<path d="M705.0 420.0C714.2 422.0 739.2 425.0 760.0 432.0C780.8 439.0 818.3 457.0 830.0 462.0" fill="none" stroke="#181818" stroke-width="26" stroke-linecap="round" opacity="0.65" filter="url(#b8)"/>
<path d="M262.0 470.0C266.7 458.3 278.7 423.3 290.0 400.0C301.3 376.7 315.7 351.5 330.0 330.0C344.3 308.5 357.2 287.8 376.0 271.0C394.8 254.2 422.3 237.9 442.7 229.3C463.1 220.7 477.4 220.7 498.3 219.5C519.2 218.3 550.9 221.9 567.9 222.3C584.9 222.7 588.4 223.2 600.0 222.0C611.6 220.8 624.3 214.1 637.5 215.3C650.7 216.5 665.3 221.4 679.2 229.3C693.1 237.2 709.2 250.9 721.0 262.7C732.8 274.5 741.0 286.3 750.0 300.0C759.0 313.7 770.8 337.5 775.0 345.0" fill="none" stroke="#262626" stroke-width="4" stroke-linecap="round" opacity="0.7" filter="url(#b2)"/>
<path d="M829.6 112.4C841.2 117.5 873.5 134.2 899.0 143.0C924.5 151.8 957.2 157.3 982.7 165.2C1008.2 173.1 1031.1 180.6 1052.0 190.3C1072.9 200.1 1089.3 210.2 1107.9 223.7C1126.5 237.1 1147.4 255.2 1163.6 271.0C1179.8 286.8 1191.4 301.1 1205.3 318.3C1219.2 335.5 1236.5 355.4 1247.0 374.0C1257.5 392.6 1264.5 420.7 1268.0 430.0" fill="none" stroke="#262626" stroke-width="4" stroke-linecap="round" opacity="0.8" filter="url(#b2)"/>
<path d="M684.0 345.0C682.1 349.0 675.3 360.5 672.6 368.8C669.9 377.1 668.0 385.1 668.0 394.8C668.0 404.6 669.1 416.5 672.6 427.3C676.1 438.1 681.8 448.9 688.8 459.7C695.8 470.5 705.0 482.4 714.8 492.2C724.5 501.9 736.5 509.5 747.3 518.2C758.1 526.9 768.9 535.0 779.7 544.2C790.5 553.4 801.4 564.2 812.2 573.4C823.0 582.6 833.9 590.8 844.7 599.4C855.5 608.0 866.3 616.1 877.1 625.3C887.9 634.5 899.9 645.3 909.6 654.5C919.4 663.7 927.5 671.8 935.6 680.5C943.7 689.2 951.8 697.8 958.3 706.5C964.8 715.2 970.7 725.2 974.5 732.5C978.3 739.8 979.9 747.1 981.0 750.0" fill="none" stroke="#1c1c1c" stroke-width="5" stroke-linecap="round" opacity="0.85" filter="url(#b2)"/>
<path d="M712.0 418.0C714.2 418.5 719.1 419.4 725.0 421.0C730.9 422.6 738.2 424.1 747.3 427.3C756.4 430.5 768.9 435.4 779.7 440.3C790.5 445.2 801.4 451.1 812.2 456.5C823.0 461.9 833.9 467.8 844.7 472.7C855.5 477.6 866.3 481.6 877.1 485.7C887.9 489.8 898.8 493.9 909.6 497.1C920.4 500.4 931.3 503.3 942.1 505.2C952.9 507.1 963.7 507.6 974.5 508.4C985.3 509.2 996.2 509.0 1007.0 510.1C1017.8 511.2 1028.7 512.6 1039.5 515.0C1050.3 517.4 1062.2 520.4 1071.9 524.7C1081.6 529.0 1089.8 534.4 1097.9 540.9C1106.0 547.4 1114.1 555.5 1120.6 563.6C1127.1 571.7 1133.5 583.5 1136.9 589.6C1140.3 595.7 1140.3 598.3 1141.0 600.0" fill="none" stroke="#1c1c1c" stroke-width="5" stroke-linecap="round" opacity="0.85" filter="url(#b2)"/>
<path d="M560.0 535.0C563.6 536.8 568.9 539.4 581.8 545.8C594.7 552.2 619.0 563.4 637.5 573.6C656.0 583.8 674.6 597.7 693.1 607.0C711.6 616.3 727.6 621.8 748.8 629.2C769.9 636.6 799.8 644.4 820.0 651.5C840.2 658.6 861.7 668.6 870.0 672.0" fill="none" stroke="#2a2a2a" stroke-width="5" stroke-linecap="round" opacity="0.35" filter="url(#b3)"/>
<linearGradient id="rg" x1="0" y1="0" x2="0" y2="1"><stop offset="0" stop-color="#f42424"/><stop offset="1" stop-color="#b42c2c"/></linearGradient>
<path d="M979.9 679.4L982.7 668.2L989.6 666.8L991 671L1004.4 671L1003.5 696L999.4 710L992.4 721L986.8 726.7L985.4 707.2L981.3 698.8L982.7 687.7Z" fill="url(#rg)"/>
<path d="M867.2 639L882.5 643.2L896.4 659.9L879.7 655.7Z" fill="#ff2222"/>
<path d="M910.3 676.6L921.4 679.4L927 687.7L927 700.2L920 690.5L913 685Z" fill="#f02828"/>
<path d="M978.5 754.5L981.8 754L981.3 784L978.6 788Z" fill="#c03030"/>
<path d="M650 567.5L663 568.5L679.2 587.5L668 584Z" fill="#ff2222"/>
<path d="M591.5 701L604 700L616.6 708L606 711.5Z" fill="#d02a2a" opacity=".8"/>
<path d="M602.7 718.5L614 717.5L627.7 725L617 728.5Z" fill="#d02a2a" opacity=".8"/>
<path d="M601 742L612 743.5L623.6 749L612 748Z" fill="#b02a2a" opacity=".6"/>
<path d="M245 531L252 530.5L257.6 549L251 548Z" fill="#a02a2a" opacity=".85"/>
<path d="M780.9 81.7L800 90L826.8 108L824 111.5L800 97Z" fill="#7a2828" opacity=".9"/>
<path d="M264 408L268 404L267 420L263.5 424Z" fill="#803030" opacity=".6"/>
</g>
</g>
<g id="mri">
<clipPath id="mcl"><rect x="1420" y="12" width="593" height="874"/></clipPath>
<clipPath id="mcr"><rect x="2011.5" y="12" width="587.5" height="874"/></clipPath>
<g clip-path="url(#mcl)"><rect x="1420" y="12" width="592" height="874" fill="#d6d6d6"/>
<rect x="1414.5" y="6.5" width="604.1" height="225.2" fill="#e6e6e6" opacity="1" filter="url(#m6)"/>
<polygon points="1488.6,36.7 1562.8,47.7 1639.7,20.2 1667.1,14.7 1656.1,61.4 1634.2,102.6 1639.7,165.8 1667.1,209.7 1711.0,228.9 1502.4,231.7 1452.9,220.7 1474.9,165.8 1488.6,102.6" fill="#ffffff" opacity="1" filter="url(#m10)"/>
<polygon points="1776.9,14.7 1804.4,39.5 1886.8,50.4 1963.7,42.2 1977.4,102.6 1985.6,165.8 2002.1,215.2 1941.7,231.7 1722.0,228.9 1766.0,204.2 1790.7,165.8 1793.4,102.6" fill="#ffffff" opacity="1" filter="url(#m10)"/>
<ellipse cx="1562.8" cy="102.6" rx="71.4" ry="65.9" fill="#ffffff" opacity="1" filter="url(#m12)"/>
<ellipse cx="1873.0" cy="102.6" rx="76.9" ry="65.9" fill="#ffffff" opacity="1" filter="url(#m12)"/>
<ellipse cx="1461.2" cy="149.3" rx="30.2" ry="16.5" fill="#fafafa" opacity="1" filter="url(#m8)"/>
<ellipse cx="1985.6" cy="143.8" rx="27.5" ry="13.7" fill="#fafafa" opacity="1" filter="url(#m8)"/>
<path d="M1510.6 14.7C1506.0 20.2 1491.4 35.8 1483.2 47.7C1474.9 59.6 1467.6 72.9 1461.2 86.1C1454.8 99.4 1447.5 120.5 1444.7 127.3" fill="none" stroke="#bcbcbc" stroke-width="41.2" stroke-linecap="round" stroke-linejoin="round" opacity="0.9" filter="url(#m16)"/>
<path d="M1936.2 14.7C1941.2 20.2 1957.7 35.8 1966.4 47.7C1975.1 59.6 1982.0 72.9 1988.4 86.1C1994.8 99.4 2002.1 120.5 2004.8 127.3" fill="none" stroke="#c0c0c0" stroke-width="38.4" stroke-linecap="round" stroke-linejoin="round" opacity="0.9" filter="url(#m16)"/>
<ellipse cx="1461.2" cy="113.6" rx="24.7" ry="19.2" fill="#b4b4b4" opacity="1" filter="url(#m8)"/>
<ellipse cx="1436.5" cy="182.2" rx="24.7" ry="27.5" fill="#bcbcbc" opacity="1" filter="url(#m10)"/>
<ellipse cx="1999.4" cy="176.7" rx="19.2" ry="30.2" fill="#c8c8c8" opacity="1" filter="url(#m10)"/>
<ellipse cx="1595.7" cy="31.2" rx="30.2" ry="22.0" fill="#b0b0b0" opacity="1" filter="url(#m8)"/>
<ellipse cx="1628.7" cy="58.7" rx="16.5" ry="13.7" fill="#d8d8d8" opacity="1" filter="url(#m8)"/>
<ellipse cx="1886.8" cy="25.7" rx="82.4" ry="15.1" fill="#c4c4c4" opacity="1" filter="url(#m8)"/>
<ellipse cx="1826.4" cy="42.2" rx="22.0" ry="11.0" fill="#d0d0d0" opacity="1" filter="url(#m8)"/>
<polygon points="1667.1,6.5 1776.9,6.5 1790.7,80.6 1789.3,149.3 1774.2,187.7 1744.0,209.7 1694.6,209.7 1661.6,187.7 1639.7,149.3 1638.3,94.4 1650.6,61.4" fill="#b6b6b6" opacity="1" filter="url(#m10)"/>
<ellipse cx="1691.8" cy="34.0" rx="24.7" ry="30.2" fill="#bcbcbc" opacity="1" filter="url(#m8)"/>
<ellipse cx="1671.2" cy="124.6" rx="31.6" ry="60.4" fill="#a6a6a6" opacity="1" filter="url(#m12)"/>
<ellipse cx="1661.6" cy="121.8" rx="19.2" ry="35.7" fill="#9c9c9c" opacity="0.8" filter="url(#m10)"/>
<ellipse cx="1756.4" cy="102.6" rx="30.2" ry="82.4" fill="#a6a6a6" opacity="1" filter="url(#m12)"/>
<ellipse cx="1757.7" cy="47.7" rx="22.0" ry="22.0" fill="#989898" opacity="0.8" filter="url(#m10)"/>
<ellipse cx="1757.7" cy="143.8" rx="24.7" ry="30.2" fill="#989898" opacity="0.8" filter="url(#m10)"/>
<ellipse cx="1697.3" cy="190.5" rx="16.5" ry="24.7" fill="#d0d0d0" opacity="1" filter="url(#m8)"/>
<ellipse cx="1735.8" cy="204.2" rx="13.7" ry="19.2" fill="#c8c8c8" opacity="1" filter="url(#m8)"/>
<path d="M1717.9 9.3C1717.9 24.8 1717.9 87.1 1717.9 102.6" fill="none" stroke="#6c6c6c" stroke-width="12.1" stroke-linecap="round" stroke-linejoin="round" opacity="0.95" filter="url(#m5)"/>
<path d="M1717.9 102.6C1717.7 124.1 1716.8 210.2 1716.5 231.7" fill="none" stroke="#989898" stroke-width="8.2" stroke-linecap="round" stroke-linejoin="round" opacity="0.8" filter="url(#m5)"/>
<ellipse cx="1724.8" cy="135.6" rx="11.0" ry="13.7" fill="#888888" opacity="0.8" filter="url(#m6)"/>
<ellipse cx="1532.6" cy="154.8" rx="26.1" ry="19.8" fill="#acacac" opacity="1" filter="url(#m8)"/>
<ellipse cx="1911.5" cy="149.3" rx="28.8" ry="21.4" fill="#acacac" opacity="1" filter="url(#m8)"/>
<polygon points="1414.5,6.5 1479.0,6.5 1463.9,28.5 1446.1,53.2 1432.4,80.6 1414.5,105.4" fill="#2a2a2a" opacity="1" filter="url(#m4)"/>
<polygon points="1965.0,6.5 2018.6,6.5 2018.6,97.1 1998.0,66.9 1981.5,36.7" fill="#2a2a2a" opacity="1" filter="url(#m4)"/>
<rect x="1480.7" y="243.4" width="495.2" height="220.7" fill="#d4d4d4" opacity="1" filter="url(#m10)"/>
<path d="M1435.5 249.0C1436.4 254.7 1438.8 270.2 1441.1 283.0C1443.5 295.7 1446.8 308.9 1449.6 325.4C1452.4 341.9 1454.8 365.5 1458.1 382.0C1461.4 398.5 1466.1 411.7 1469.4 424.4C1472.7 437.2 1476.5 452.7 1477.9 458.4" fill="none" stroke="#808080" stroke-width="25.5" stroke-linecap="round" stroke-linejoin="round" opacity="0.75" filter="url(#m9)"/>
<path d="M1427.0 254.7C1428.4 263.2 1434.1 297.1 1435.5 305.6" fill="none" stroke="#505050" stroke-width="22.6" stroke-linecap="round" stroke-linejoin="round" opacity="0.8" filter="url(#m8)"/>
<path d="M1992.9 254.7C1992.4 264.1 1992.0 290.0 1990.1 311.3C1988.2 332.5 1984.7 357.5 1981.6 382.0C1978.5 406.5 1973.3 445.7 1971.7 458.4" fill="none" stroke="#808080" stroke-width="25.5" stroke-linecap="round" stroke-linejoin="round" opacity="0.75" filter="url(#m9)"/>
<path d="M1998.6 260.3C1998.1 268.8 1996.2 302.8 1995.7 311.3" fill="none" stroke="#585858" stroke-width="17.0" stroke-linecap="round" stroke-linejoin="round" opacity="0.7" filter="url(#m8)"/>
<ellipse cx="1494.9" cy="353.7" rx="14.1" ry="99.0" fill="#c0c0c0" opacity="0.8" filter="url(#m10)"/>
<ellipse cx="1947.6" cy="353.7" rx="14.1" ry="99.0" fill="#c0c0c0" opacity="0.8" filter="url(#m10)"/>
<ellipse cx="1534.5" cy="263.2" rx="34.0" ry="22.6" fill="#9c9c9c" opacity="1" filter="url(#m8)"/>
<ellipse cx="1925.0" cy="260.3" rx="36.8" ry="22.6" fill="#989898" opacity="1" filter="url(#m8)"/>
<ellipse cx="1483.6" cy="249.0" rx="25.5" ry="14.1" fill="#989898" opacity="0.8" filter="url(#m8)"/>
<polygon points="1568.5,268.8 1625.1,254.7 1681.6,283.0 1687.3,353.7 1642.0,373.5 1585.4,353.7 1557.1,311.3" fill="#c0c0c0" opacity="1" filter="url(#m10)"/>
<polygon points="1743.9,283.0 1800.5,254.7 1862.7,268.8 1891.0,311.3 1874.1,362.2 1806.2,373.5 1749.6,353.7" fill="#c0c0c0" opacity="1" filter="url(#m10)"/>
<ellipse cx="1664.7" cy="271.6" rx="25.5" ry="17.0" fill="#b0b0b0" opacity="0.8" filter="url(#m8)"/>
<ellipse cx="1811.8" cy="263.2" rx="34.0" ry="17.0" fill="#b4b4b4" opacity="0.8" filter="url(#m8)"/>
<path d="M1568.5 249.0C1565.6 257.0 1558.1 277.3 1551.5 297.1C1544.9 316.9 1534.5 341.9 1528.8 367.9C1523.2 393.8 1519.4 438.6 1517.5 452.7" fill="none" stroke="#eeeeee" stroke-width="14.1" stroke-linecap="round" stroke-linejoin="round" opacity="0.9" filter="url(#m6)"/>
<path d="M1885.4 249.0C1889.2 259.4 1900.9 289.1 1908.0 311.3C1915.1 333.4 1923.6 358.4 1927.8 382.0C1932.1 405.6 1932.5 441.0 1933.5 452.7" fill="none" stroke="#eeeeee" stroke-width="14.1" stroke-linecap="round" stroke-linejoin="round" opacity="0.9" filter="url(#m6)"/>
<path d="M1591.1 396.2C1603.4 389.1 1652.4 360.8 1664.7 353.7" fill="none" stroke="#eeeeee" stroke-width="11.3" stroke-linecap="round" stroke-linejoin="round" opacity="0.8" filter="url(#m6)"/>
<path d="M1777.9 353.7C1790.1 360.8 1839.2 389.1 1851.4 396.2" fill="none" stroke="#eeeeee" stroke-width="11.3" stroke-linecap="round" stroke-linejoin="round" opacity="0.8" filter="url(#m6)"/>
<ellipse cx="1622.2" cy="430.1" rx="56.6" ry="31.1" fill="#e2e2e2" opacity="1" filter="url(#m10)"/>
<ellipse cx="1820.3" cy="430.1" rx="62.3" ry="31.1" fill="#e2e2e2" opacity="1" filter="url(#m10)"/>
<ellipse cx="1619.4" cy="240.5" rx="56.6" ry="14.1" fill="#f4f4f4" opacity="0.9" filter="url(#m8)"/>
<ellipse cx="1806.2" cy="240.5" rx="56.6" ry="12.7" fill="#f4f4f4" opacity="0.9" filter="url(#m8)"/>
<path d="M1719.8 370.7C1719.8 389.1 1719.8 462.6 1719.8 481.0" fill="none" stroke="#505050" stroke-width="11.3" stroke-linecap="round" stroke-linejoin="round" opacity="0.95" filter="url(#m5)"/>
<path d="M1719.8 367.9C1719.8 383.9 1719.8 448.0 1719.8 464.1" fill="none" stroke="#909090" stroke-width="25.5" stroke-linecap="round" stroke-linejoin="round" opacity="0.5" filter="url(#m10)"/>
<rect x="1415.7" y="458.3" width="608.4" height="435.8" fill="#dadada" opacity="0.9" filter="url(#m10)"/>
<path d="M1719.8 415.9C1719.8 423.9 1719.8 455.9 1719.8 464.0" fill="none" stroke="#585858" stroke-width="11.3" stroke-linecap="round" stroke-linejoin="round" opacity="0.95" filter="url(#m5)"/>
<ellipse cx="1480.7" cy="523.4" rx="65.1" ry="65.1" fill="#f2f2f2" opacity="1" filter="url(#m10)"/>
<ellipse cx="1517.5" cy="574.3" rx="24.1" ry="36.8" fill="#989898" opacity="1" filter="url(#m8)"/>
<ellipse cx="1545.8" cy="588.5" rx="22.6" ry="17.0" fill="#b0b0b0" opacity="1" filter="url(#m8)"/>
<path d="M1458.1 424.3C1460.9 429.5 1472.3 450.3 1475.1 455.5" fill="none" stroke="#787878" stroke-width="25.5" stroke-linecap="round" stroke-linejoin="round" opacity="0.9" filter="url(#m8)"/>
<path d="M1973.1 424.3C1971.7 430.0 1966.0 452.6 1964.6 458.3" fill="none" stroke="#808080" stroke-width="22.6" stroke-linecap="round" stroke-linejoin="round" opacity="0.9" filter="url(#m8)"/>
<ellipse cx="1992.9" cy="529.0" rx="22.6" ry="70.7" fill="#c0c0c0" opacity="0.8" filter="url(#m10)"/>
<polygon points="1693.0,464.0 1749.6,464.0 1786.3,529.0 1775.0,599.8 1693.0,599.8 1690.1,543.2" fill="#dcdcdc" opacity="1" filter="url(#m10)"/>
<ellipse cx="1719.8" cy="560.2" rx="7.1" ry="9.9" fill="#808080" opacity="1" filter="url(#m4)"/>
<ellipse cx="1608.1" cy="500.7" rx="70.7" ry="56.6" fill="#e2e2e2" opacity="1" filter="url(#m12)"/>
<ellipse cx="1820.3" cy="492.3" rx="50.9" ry="48.1" fill="#e2e2e2" opacity="1" filter="url(#m12)"/>
<path d="M1593.9 543.2C1597.2 545.1 1606.7 550.7 1613.7 554.5C1620.8 558.3 1628.8 560.6 1636.4 565.8C1643.9 571.0 1651.9 578.1 1659.0 585.6C1666.1 593.2 1675.5 606.9 1678.8 611.1" fill="none" stroke="#5c5c5c" stroke-width="19.8" stroke-linecap="round" stroke-linejoin="round" opacity="0.95" filter="url(#m6)"/>
<path d="M1630.7 563.0C1634.5 566.3 1645.8 574.8 1653.4 582.8C1660.9 590.8 1672.2 606.4 1676.0 611.1" fill="none" stroke="#585858" stroke-width="26.9" stroke-linecap="round" stroke-linejoin="round" opacity="0.9" filter="url(#m7)"/>
<path d="M1845.8 540.4C1841.1 542.7 1826.4 548.4 1817.5 554.5C1808.5 560.6 1799.1 568.7 1792.0 577.1C1784.9 585.6 1777.9 600.7 1775.0 605.4" fill="none" stroke="#5c5c5c" stroke-width="18.4" stroke-linecap="round" stroke-linejoin="round" opacity="0.95" filter="url(#m6)"/>
<path d="M1806.2 565.8C1802.4 569.6 1790.1 580.4 1783.5 588.5C1776.9 596.5 1769.4 609.7 1766.5 613.9" fill="none" stroke="#585858" stroke-width="25.5" stroke-linecap="round" stroke-linejoin="round" opacity="0.9" filter="url(#m7)"/>
<polygon points="1667.5,599.8 1775.0,599.8 1777.9,645.1 1743.9,653.5 1693.0,653.5 1664.7,639.4" fill="#4c4c4c" opacity="1" filter="url(#m6)"/>
<ellipse cx="1896.7" cy="509.2" rx="62.3" ry="36.8" fill="#f2f2f2" opacity="1" filter="url(#m10)"/>
<ellipse cx="1840.1" cy="543.2" rx="14.1" ry="17.0" fill="#808080" opacity="1" filter="url(#m6)"/>
<ellipse cx="1896.7" cy="568.7" rx="42.4" ry="31.1" fill="#b0b0b0" opacity="1" filter="url(#m8)"/>
<ellipse cx="1922.2" cy="546.0" rx="17.0" ry="22.6" fill="#a8a8a8" opacity="1" filter="url(#m8)"/>
<ellipse cx="1896.7" cy="611.1" rx="56.6" ry="14.1" fill="#f0f0f0" opacity="1" filter="url(#m8)"/>
<ellipse cx="1444.0" cy="628.1" rx="42.4" ry="34.0" fill="#f8f8f8" opacity="1" filter="url(#m10)"/>
<ellipse cx="1585.4" cy="616.8" rx="62.3" ry="17.0" fill="#eeeeee" opacity="1" filter="url(#m10)"/>
<ellipse cx="1975.9" cy="639.4" rx="45.3" ry="36.8" fill="#fafafa" opacity="1" filter="url(#m10)"/>
<ellipse cx="1834.4" cy="628.1" rx="36.8" ry="22.6" fill="#e8e8e8" opacity="1" filter="url(#m10)"/>
<polygon points="1659.0,639.4 1780.7,639.4 1777.9,698.8 1753.8,755.4 1721.3,797.9 1688.7,755.4 1664.7,698.8" fill="#9c9c9c" opacity="1" filter="url(#m8)"/>
<path d="M1656.2 628.1C1656.9 635.1 1657.8 656.4 1660.4 670.5C1663.0 684.7 1667.0 698.8 1671.7 713.0C1676.5 727.1 1682.4 742.7 1688.7 755.4C1695.1 768.1 1706.4 783.7 1709.9 789.4" fill="none" stroke="#747474" stroke-width="22.6" stroke-linecap="round" stroke-linejoin="round" opacity="0.9" filter="url(#m7)"/>
<path d="M1779.3 628.1C1779.0 635.1 1780.2 656.4 1777.9 670.5C1775.5 684.7 1770.1 698.8 1765.1 713.0C1760.2 727.1 1754.0 742.7 1748.1 755.4C1742.2 768.1 1732.8 783.7 1729.8 789.4" fill="none" stroke="#747474" stroke-width="22.6" stroke-linecap="round" stroke-linejoin="round" opacity="0.9" filter="url(#m7)"/>
<path d="M1671.7 662.0C1679.8 663.1 1703.8 668.3 1719.8 668.3C1735.9 668.3 1759.9 663.1 1768.0 662.0" fill="none" stroke="#b8b8b8" stroke-width="7.9" stroke-linecap="round" stroke-linejoin="round" opacity="0.9" filter="url(#m3)"/>
<path d="M1678.0 683.3C1684.9 684.3 1705.9 689.5 1719.8 689.5C1733.8 689.5 1754.7 684.3 1761.7 683.3" fill="none" stroke="#848484" stroke-width="7.9" stroke-linecap="round" stroke-linejoin="round" opacity="0.9" filter="url(#m3)"/>
<path d="M1684.2 703.1C1690.1 704.1 1708.0 709.3 1719.8 709.3C1731.7 709.3 1749.6 704.1 1755.5 703.1" fill="none" stroke="#b8b8b8" stroke-width="7.9" stroke-linecap="round" stroke-linejoin="round" opacity="0.9" filter="url(#m3)"/>
<path d="M1690.4 722.9C1695.3 723.9 1710.0 729.1 1719.8 729.1C1729.7 729.1 1744.4 723.9 1749.3 722.9" fill="none" stroke="#848484" stroke-width="7.9" stroke-linecap="round" stroke-linejoin="round" opacity="0.9" filter="url(#m3)"/>
<path d="M1696.6 741.3C1700.5 742.3 1712.1 747.5 1719.8 747.5C1727.6 747.5 1739.2 742.3 1743.1 741.3" fill="none" stroke="#b8b8b8" stroke-width="7.9" stroke-linecap="round" stroke-linejoin="round" opacity="0.9" filter="url(#m3)"/>
<path d="M1702.9 758.2C1705.7 759.3 1714.2 764.5 1719.8 764.5C1725.5 764.5 1734.0 759.3 1736.8 758.2" fill="none" stroke="#848484" stroke-width="7.9" stroke-linecap="round" stroke-linejoin="round" opacity="0.9" filter="url(#m3)"/>
<ellipse cx="1718.4" cy="795.0" rx="28.3" ry="12.7" fill="#606060" opacity="1" filter="url(#m6)"/>
<ellipse cx="1719.8" cy="816.2" rx="8.5" ry="7.1" fill="#d8d8d8" opacity="1" filter="url(#m4)"/>
<path d="M1719.8 829.0C1719.8 839.8 1719.8 883.2 1719.8 894.1" fill="none" stroke="#747474" stroke-width="12.7" stroke-linecap="round" stroke-linejoin="round" opacity="0.9" filter="url(#m6)"/>
<ellipse cx="1545.8" cy="713.0" rx="19.8" ry="84.9" fill="#a4a4a4" opacity="1" filter="url(#m10)"/>
<ellipse cx="1582.6" cy="727.1" rx="14.1" ry="93.4" fill="#b0b0b0" opacity="0.9" filter="url(#m10)"/>
<ellipse cx="1625.1" cy="727.1" rx="25.5" ry="84.9" fill="#b0b0b0" opacity="0.9" filter="url(#m12)"/>
<ellipse cx="1514.7" cy="713.0" rx="11.3" ry="93.4" fill="#f4f4f4" opacity="0.9" filter="url(#m8)"/>
<ellipse cx="1458.1" cy="735.6" rx="28.3" ry="62.3" fill="#b8b8b8" opacity="1" filter="url(#m12)"/>
<ellipse cx="1444.0" cy="840.3" rx="25.5" ry="28.3" fill="#c4c4c4" opacity="1" filter="url(#m10)"/>
<ellipse cx="1579.8" cy="848.8" rx="36.8" ry="25.5" fill="#b4b4b4" opacity="1" filter="url(#m10)"/>
<ellipse cx="1650.5" cy="854.4" rx="22.6" ry="25.5" fill="#c0c0c0" opacity="1" filter="url(#m10)"/>
<ellipse cx="1500.5" cy="854.4" rx="25.5" ry="28.3" fill="#eeeeee" opacity="1" filter="url(#m10)"/>
<ellipse cx="1806.2" cy="713.0" rx="17.0" ry="73.6" fill="#c0c0c0" opacity="1" filter="url(#m12)"/>
<ellipse cx="1851.4" cy="727.1" rx="19.8" ry="84.9" fill="#ececec" opacity="1" filter="url(#m10)"/>
<ellipse cx="1908.0" cy="755.4" rx="14.1" ry="99.0" fill="#f6f6f6" opacity="1" filter="url(#m10)"/>
<ellipse cx="1981.6" cy="727.1" rx="25.5" ry="65.1" fill="#b4b4b4" opacity="1" filter="url(#m12)"/>
<ellipse cx="1942.0" cy="741.3" rx="14.1" ry="70.7" fill="#d0d0d0" opacity="1" filter="url(#m10)"/>
<ellipse cx="1834.4" cy="848.8" rx="45.3" ry="25.5" fill="#bcbcbc" opacity="1" filter="url(#m10)"/>
<ellipse cx="1947.6" cy="854.4" rx="39.6" ry="25.5" fill="#c4c4c4" opacity="1" filter="url(#m10)"/>
<ellipse cx="1777.9" cy="840.3" rx="22.6" ry="34.0" fill="#c8c8c8" opacity="1" filter="url(#m10)"/>
<polygon points="2004.2,854.4 2024.0,840.3 2024.0,894.1 1998.6,894.1" fill="#505050" opacity="1" filter="url(#m5)"/>
<polygon points="1415.7,871.4 1429.8,882.7 1427.0,894.1 1415.7,894.1" fill="#707070" opacity="1" filter="url(#m5)"/></g>
<g clip-path="url(#mcr)"><rect x="2011" y="12" width="588" height="874" fill="#dedede"/>
<rect x="2008.5" y="8.5" width="594.2" height="246.2" fill="#f0f0f0" opacity="1" filter="url(#m10)"/>
<polygon points="2181.1,17.0 2254.7,8.5 2249.0,56.6 2240.5,169.8 2254.7,283.0 2181.1,288.6 2169.8,226.4 2186.8,141.5" fill="#ffffff" opacity="1" filter="url(#m10)"/>
<polygon points="2365.0,8.5 2424.4,22.6 2418.8,141.5 2441.4,226.4 2430.1,283.0 2356.5,288.6 2373.5,169.8 2367.9,70.7" fill="#ffffff" opacity="1" filter="url(#m10)"/>
<ellipse cx="2135.8" cy="226.4" rx="84.9" ry="25.5" fill="#ffffff" opacity="1" filter="url(#m10)"/>
<ellipse cx="2509.3" cy="203.7" rx="93.4" ry="19.8" fill="#ffffff" opacity="1" filter="url(#m10)"/>
<ellipse cx="2158.5" cy="36.8" rx="48.1" ry="25.5" fill="#fcfcfc" opacity="1" filter="url(#m10)"/>
<ellipse cx="2466.9" cy="36.8" rx="56.6" ry="25.5" fill="#f8f8f8" opacity="1" filter="url(#m10)"/>
<polygon points="2254.7,8.5 2365.0,8.5 2373.5,84.9 2367.9,198.1 2353.7,283.0 2333.9,311.3 2283.0,311.3 2263.2,283.0 2246.2,198.1 2243.4,84.9" fill="#b4b4b4" opacity="1" filter="url(#m10)"/>
<ellipse cx="2283.0" cy="65.1" rx="28.3" ry="50.9" fill="#a4a4a4" opacity="0.7" filter="url(#m12)"/>
<ellipse cx="2345.2" cy="84.9" rx="25.5" ry="42.4" fill="#a0a0a0" opacity="0.8" filter="url(#m12)"/>
<ellipse cx="2283.0" cy="183.9" rx="25.5" ry="70.7" fill="#bcbcbc" opacity="0.7" filter="url(#m12)"/>
<path d="M2307.9 8.5C2307.9 30.7 2307.8 101.4 2307.9 141.5C2308.0 181.6 2308.3 231.1 2308.4 249.0" fill="none" stroke="#747474" stroke-width="12.7" stroke-linecap="round" stroke-linejoin="round" opacity="0.9" filter="url(#m5)"/>
<ellipse cx="2309.8" cy="280.1" rx="14.1" ry="36.8" fill="#5c5c5c" opacity="1" filter="url(#m7)"/>
<ellipse cx="2084.9" cy="84.9" rx="93.4" ry="73.6" fill="#dadada" opacity="0.7" filter="url(#m16)"/>
<ellipse cx="2532.0" cy="90.5" rx="84.9" ry="70.7" fill="#dedede" opacity="0.65" filter="url(#m16)"/>
<ellipse cx="2042.4" cy="198.1" rx="34.0" ry="17.0" fill="#fafafa" opacity="1" filter="url(#m10)"/>
<ellipse cx="2133.0" cy="166.9" rx="50.9" ry="25.5" fill="#a0a0a0" opacity="1" filter="url(#m10)"/>
<ellipse cx="2169.8" cy="93.4" rx="15.6" ry="39.6" fill="#acacac" opacity="1" filter="url(#m10)"/>
<ellipse cx="2118.8" cy="82.1" rx="12.7" ry="53.8" fill="#b8b8b8" opacity="1" filter="url(#m10)"/>
<ellipse cx="2070.7" cy="84.9" rx="12.7" ry="42.4" fill="#cccccc" opacity="1" filter="url(#m10)"/>
<ellipse cx="2034.0" cy="147.1" rx="31.1" ry="34.0" fill="#d0d0d0" opacity="1" filter="url(#m12)"/>
<ellipse cx="2483.9" cy="169.8" rx="53.8" ry="25.5" fill="#a6a6a6" opacity="1" filter="url(#m10)"/>
<ellipse cx="2466.9" cy="96.2" rx="15.6" ry="31.1" fill="#a8a8a8" opacity="1" filter="url(#m10)"/>
<ellipse cx="2509.3" cy="118.8" rx="17.0" ry="22.6" fill="#b8b8b8" opacity="1" filter="url(#m10)"/>
<ellipse cx="2574.4" cy="135.8" rx="25.5" ry="56.6" fill="#cccccc" opacity="1" filter="url(#m12)"/>
<ellipse cx="2424.4" cy="25.5" rx="56.6" ry="11.3" fill="#d0d0d0" opacity="1" filter="url(#m8)"/>
<ellipse cx="2232.0" cy="17.0" rx="17.0" ry="8.5" fill="#c8c8c8" opacity="1" filter="url(#m6)"/>
<polygon points="2005.7,8.5 2082.1,8.5 2056.6,36.8 2031.1,79.2 2014.1,107.5 2005.7,84.9" fill="#303030" opacity="1" filter="url(#m5)"/>
<polygon points="2540.5,8.5 2602.7,8.5 2602.7,84.9 2582.9,56.6 2563.1,28.3" fill="#303030" opacity="1" filter="url(#m5)"/>
<rect x="2008.5" y="283.0" width="594.2" height="181.1" fill="#d2d2d2" opacity="0.9" filter="url(#m12)"/>
<path d="M2005.7 263.2C2016.5 263.2 2049.0 263.6 2070.7 263.2C2092.4 262.7 2125.0 260.8 2135.8 260.3" fill="none" stroke="#909090" stroke-width="25.5" stroke-linecap="round" stroke-linejoin="round" opacity="0.9" filter="url(#m8)"/>
<path d="M2475.4 240.5C2483.4 242.9 2502.7 252.3 2523.5 254.7C2544.2 257.0 2587.2 254.7 2599.9 254.7" fill="none" stroke="#909090" stroke-width="28.3" stroke-linecap="round" stroke-linejoin="round" opacity="0.9" filter="url(#m8)"/>
<path d="M2045.3 277.3C2045.7 287.7 2046.7 319.8 2048.1 339.6C2049.5 359.4 2051.9 375.4 2053.8 396.2C2055.6 416.9 2058.5 452.7 2059.4 464.1" fill="none" stroke="#6c6c6c" stroke-width="28.3" stroke-linecap="round" stroke-linejoin="round" opacity="0.95" filter="url(#m8)"/>
<path d="M2050.9 353.7C2051.4 359.8 2053.3 384.4 2053.8 390.5" fill="none" stroke="#585858" stroke-width="14.1" stroke-linecap="round" stroke-linejoin="round" opacity="0.8" filter="url(#m6)"/>
<path d="M2568.8 277.3C2568.8 290.0 2569.7 331.5 2568.8 353.7C2567.8 375.9 2565.0 391.9 2563.1 410.3C2561.2 428.7 2558.4 455.1 2557.4 464.1" fill="none" stroke="#6c6c6c" stroke-width="28.3" stroke-linecap="round" stroke-linejoin="round" opacity="0.95" filter="url(#m8)"/>
<path d="M2568.8 339.6C2568.3 345.2 2566.4 367.9 2565.9 373.5" fill="none" stroke="#505050" stroke-width="17.0" stroke-linecap="round" stroke-linejoin="round" opacity="0.8" filter="url(#m6)"/>
<ellipse cx="2014.1" cy="353.7" rx="11.3" ry="99.0" fill="#c4c4c4" opacity="1" filter="url(#m8)"/>
<ellipse cx="2093.4" cy="367.9" rx="14.1" ry="90.5" fill="#c4c4c4" opacity="1" filter="url(#m10)"/>
<ellipse cx="2124.5" cy="382.0" rx="11.3" ry="70.7" fill="#f0f0f0" opacity="0.9" filter="url(#m8)"/>
<ellipse cx="2526.3" cy="367.9" rx="14.1" ry="90.5" fill="#c0c0c0" opacity="1" filter="url(#m10)"/>
<ellipse cx="2500.8" cy="367.9" rx="11.3" ry="73.6" fill="#eeeeee" opacity="0.9" filter="url(#m8)"/>
<ellipse cx="2226.4" cy="325.4" rx="65.1" ry="42.4" fill="#bababa" opacity="1" filter="url(#m12)"/>
<ellipse cx="2410.3" cy="333.9" rx="76.4" ry="36.8" fill="#bababa" opacity="1" filter="url(#m12)"/>
<ellipse cx="2158.5" cy="305.6" rx="28.3" ry="28.3" fill="#c8c8c8" opacity="1" filter="url(#m10)"/>
<path d="M2308.4 333.9C2308.4 349.9 2308.4 414.1 2308.4 430.1" fill="none" stroke="#5c5c5c" stroke-width="12.7" stroke-linecap="round" stroke-linejoin="round" opacity="0.95" filter="url(#m5)"/>
<ellipse cx="2308.4" cy="349.5" rx="19.8" ry="8.5" fill="#686868" opacity="1" filter="url(#m5)"/>
<ellipse cx="2308.4" cy="452.7" rx="11.3" ry="11.3" fill="#989898" opacity="1" filter="url(#m6)"/>
<ellipse cx="2226.4" cy="418.8" rx="70.7" ry="31.1" fill="#dcdcdc" opacity="1" filter="url(#m12)"/>
<ellipse cx="2396.2" cy="418.8" rx="70.7" ry="31.1" fill="#dcdcdc" opacity="1" filter="url(#m12)"/>
<rect x="2008.5" y="464.0" width="594.2" height="430.1" fill="#dcdcdc" opacity="0.9" filter="url(#m10)"/>
<path d="M2053.8 418.7C2055.2 427.6 2060.8 463.5 2062.3 472.4" fill="none" stroke="#848484" stroke-width="25.5" stroke-linecap="round" stroke-linejoin="round" opacity="0.9" filter="url(#m8)"/>
<path d="M2560.3 418.7C2558.9 426.2 2553.2 456.4 2551.8 464.0" fill="none" stroke="#848484" stroke-width="25.5" stroke-linecap="round" stroke-linejoin="round" opacity="0.9" filter="url(#m8)"/>
<ellipse cx="2034.0" cy="571.5" rx="36.8" ry="141.5" fill="#f6f6f6" opacity="1" filter="url(#m12)"/>
<ellipse cx="2577.2" cy="571.5" rx="28.3" ry="135.8" fill="#f4f4f4" opacity="1" filter="url(#m12)"/>
<polygon points="2240.5,424.3 2379.2,424.3 2379.2,543.2 2356.5,599.8 2308.4,613.9 2260.3,599.8 2237.7,543.2" fill="#d6d6d6" opacity="1" filter="url(#m10)"/>
<ellipse cx="2308.4" cy="456.9" rx="8.5" ry="12.7" fill="#808080" opacity="1" filter="url(#m4)"/>
<ellipse cx="2308.4" cy="580.0" rx="7.9" ry="11.3" fill="#848484" opacity="1" filter="url(#m4)"/>
<ellipse cx="2127.3" cy="523.4" rx="48.1" ry="48.1" fill="#a8a8a8" opacity="1" filter="url(#m10)"/>
<ellipse cx="2152.8" cy="489.4" rx="19.8" ry="17.0" fill="#909090" opacity="1" filter="url(#m8)"/>
<path d="M2166.9 517.7C2171.2 519.8 2182.0 524.8 2192.4 530.5C2202.8 536.1 2223.1 548.1 2229.2 551.7" fill="none" stroke="#606060" stroke-width="22.6" stroke-linecap="round" stroke-linejoin="round" opacity="0.95" filter="url(#m7)"/>
<ellipse cx="2158.5" cy="588.5" rx="62.3" ry="19.8" fill="#f4f4f4" opacity="1" filter="url(#m8)"/>
<ellipse cx="2198.1" cy="503.6" rx="22.6" ry="17.0" fill="#ececec" opacity="1" filter="url(#m8)"/>
<ellipse cx="2141.5" cy="616.8" rx="56.6" ry="11.3" fill="#c8c8c8" opacity="1" filter="url(#m8)"/>
<path d="M2230.6 514.9C2231.8 522.0 2234.6 544.1 2237.7 557.3C2240.8 570.5 2243.4 584.2 2249.0 594.1C2254.7 604.0 2261.7 611.6 2271.6 616.8C2281.6 621.9 2296.2 625.2 2308.4 625.2C2320.7 625.2 2335.3 621.9 2345.2 616.8C2355.1 611.6 2362.0 604.0 2367.9 594.1C2373.8 584.2 2377.5 570.5 2380.6 557.3C2383.7 544.1 2385.3 522.0 2386.2 514.9" fill="none" stroke="#646464" stroke-width="17.0" stroke-linecap="round" stroke-linejoin="round" opacity="0.95" filter="url(#m6)"/>
<path d="M2240.5 565.8C2242.9 572.0 2248.5 593.2 2254.7 602.6C2260.8 612.0 2268.3 618.2 2277.3 622.4C2286.3 626.7 2298.1 628.1 2308.4 628.1C2318.8 628.1 2330.6 626.7 2339.6 622.4C2348.5 618.2 2355.8 612.0 2362.2 602.6C2368.6 593.2 2375.2 572.0 2377.8 565.8" fill="none" stroke="#5c5c5c" stroke-width="22.6" stroke-linecap="round" stroke-linejoin="round" opacity="0.9" filter="url(#m7)"/>
<path d="M2226.4 464.0C2227.1 472.4 2229.9 506.4 2230.6 514.9" fill="none" stroke="#a0a0a0" stroke-width="14.1" stroke-linecap="round" stroke-linejoin="round" opacity="0.8" filter="url(#m8)"/>
<path d="M2390.5 464.0C2389.8 472.4 2387.0 506.4 2386.2 514.9" fill="none" stroke="#a0a0a0" stroke-width="14.1" stroke-linecap="round" stroke-linejoin="round" opacity="0.8" filter="url(#m8)"/>
<path d="M2386.2 550.3C2391.7 547.7 2407.2 541.3 2418.8 534.7C2430.3 528.1 2449.4 514.7 2455.6 510.6" fill="none" stroke="#686868" stroke-width="22.1" stroke-linecap="round" stroke-linejoin="round" opacity="0.95" filter="url(#m7)"/>
<ellipse cx="2492.4" cy="529.0" rx="48.1" ry="48.1" fill="#a8a8a8" opacity="1" filter="url(#m10)"/>
<ellipse cx="2464.1" cy="486.6" rx="22.6" ry="17.0" fill="#909090" opacity="1" filter="url(#m8)"/>
<ellipse cx="2464.1" cy="582.8" rx="65.1" ry="17.0" fill="#f4f4f4" opacity="1" filter="url(#m8)"/>
<ellipse cx="2466.9" cy="613.9" rx="56.6" ry="11.3" fill="#b8b8b8" opacity="1" filter="url(#m8)"/>
<ellipse cx="2424.4" cy="500.7" rx="19.8" ry="17.0" fill="#e8e8e8" opacity="1" filter="url(#m8)"/>
<polygon points="2232.0,628.1 2387.7,628.1 2390.5,698.8 2367.9,755.4 2339.6,786.5 2283.0,786.5 2254.7,755.4 2229.2,698.8" fill="#b6b6b6" opacity="1" filter="url(#m10)"/>
<path d="M2226.4 645.1C2228.4 655.3 2231.2 688.8 2238.7 706.6C2246.2 724.4 2259.9 741.5 2271.5 751.7C2283.1 762.0 2296.1 768.1 2308.4 768.1C2320.7 768.1 2333.7 762.0 2345.4 751.7C2357.0 741.5 2370.7 724.4 2378.2 706.6C2385.7 688.8 2388.4 655.3 2390.5 645.1" fill="none" stroke="#8c8c8c" stroke-width="4.5" stroke-linecap="round" stroke-linejoin="round" opacity="0.8" filter="url(#m3)"/>
<path d="M2243.4 647.3C2245.0 655.5 2247.1 682.0 2253.1 696.1C2259.1 710.2 2269.9 723.8 2279.1 731.9C2288.4 740.1 2298.7 744.9 2308.4 744.9C2318.2 744.9 2328.5 740.1 2337.7 731.9C2346.9 723.8 2357.8 710.2 2363.8 696.1C2369.7 682.0 2371.9 655.5 2373.5 647.3" fill="none" stroke="#989898" stroke-width="4.5" stroke-linecap="round" stroke-linejoin="round" opacity="0.8" filter="url(#m3)"/>
<path d="M2260.3 649.6C2261.5 655.6 2263.1 675.2 2267.5 685.7C2272.0 696.1 2280.0 706.1 2286.8 712.1C2293.6 718.1 2301.2 721.7 2308.4 721.7C2315.6 721.7 2323.3 718.1 2330.1 712.1C2336.9 706.1 2344.9 696.1 2349.3 685.7C2353.7 675.2 2355.3 655.6 2356.5 649.6" fill="none" stroke="#909090" stroke-width="4.5" stroke-linecap="round" stroke-linejoin="round" opacity="0.8" filter="url(#m3)"/>
<path d="M2277.3 651.8C2278.1 655.7 2279.1 668.4 2282.0 675.2C2284.8 681.9 2290.0 688.4 2294.4 692.3C2298.8 696.2 2303.8 698.5 2308.4 698.5C2313.1 698.5 2318.0 696.2 2322.4 692.3C2326.8 688.4 2332.0 681.9 2334.9 675.2C2337.7 668.4 2338.8 655.7 2339.6 651.8" fill="none" stroke="#989898" stroke-width="4.5" stroke-linecap="round" stroke-linejoin="round" opacity="0.8" filter="url(#m3)"/>
<path d="M2292.9 654.1C2293.3 656.1 2293.8 662.4 2295.2 665.8C2296.6 669.2 2299.2 672.4 2301.4 674.3C2303.6 676.3 2306.1 677.5 2308.4 677.5C2310.8 677.5 2313.2 676.3 2315.4 674.3C2317.6 672.4 2320.2 669.2 2321.7 665.8C2323.1 662.4 2323.6 656.1 2324.0 654.1" fill="none" stroke="#909090" stroke-width="4.5" stroke-linecap="round" stroke-linejoin="round" opacity="0.8" filter="url(#m3)"/>
<ellipse cx="2309.8" cy="647.9" rx="25.5" ry="11.3" fill="#909090" opacity="1" filter="url(#m6)"/>
<ellipse cx="2311.3" cy="790.8" rx="36.8" ry="14.1" fill="#646464" opacity="1" filter="url(#m7)"/>
<ellipse cx="2309.8" cy="840.3" rx="8.5" ry="11.3" fill="#d0d0d0" opacity="1" filter="url(#m5)"/>
<path d="M2309.8 809.2C2309.8 812.9 2309.8 828.0 2309.8 831.8" fill="none" stroke="#808080" stroke-width="17.0" stroke-linecap="round" stroke-linejoin="round" opacity="0.9" filter="url(#m6)"/>
<path d="M2309.8 854.4C2309.8 861.1 2309.8 887.5 2309.8 894.1" fill="none" stroke="#787878" stroke-width="14.1" stroke-linecap="round" stroke-linejoin="round" opacity="0.9" filter="url(#m6)"/>
<ellipse cx="2135.8" cy="713.0" rx="42.4" ry="84.9" fill="#bcbcbc" opacity="1" filter="url(#m14)"/>
<ellipse cx="2172.6" cy="727.1" rx="14.1" ry="84.9" fill="#a8a8a8" opacity="0.9" filter="url(#m10)"/>
<ellipse cx="2209.4" cy="713.0" rx="14.1" ry="79.2" fill="#b4b4b4" opacity="0.8" filter="url(#m10)"/>
<ellipse cx="2048.1" cy="690.3" rx="25.5" ry="50.9" fill="#c4c4c4" opacity="1" filter="url(#m12)"/>
<ellipse cx="2093.4" cy="769.6" rx="11.3" ry="84.9" fill="#f4f4f4" opacity="0.9" filter="url(#m8)"/>
<ellipse cx="2056.6" cy="826.2" rx="36.8" ry="34.0" fill="#d0d0d0" opacity="1" filter="url(#m12)"/>
<ellipse cx="2158.5" cy="848.8" rx="42.4" ry="28.3" fill="#c0c0c0" opacity="1" filter="url(#m12)"/>
<ellipse cx="2240.5" cy="848.8" rx="28.3" ry="31.1" fill="#c4c4c4" opacity="1" filter="url(#m10)"/>
<ellipse cx="2418.8" cy="713.0" rx="22.6" ry="84.9" fill="#c0c0c0" opacity="1" filter="url(#m12)"/>
<ellipse cx="2458.4" cy="741.3" rx="17.0" ry="84.9" fill="#cccccc" opacity="1" filter="url(#m10)"/>
<ellipse cx="2503.7" cy="727.1" rx="14.1" ry="93.4" fill="#f8f8f8" opacity="0.9" filter="url(#m8)"/>
<ellipse cx="2537.6" cy="746.9" rx="17.0" ry="56.6" fill="#b8b8b8" opacity="1" filter="url(#m10)"/>
<ellipse cx="2396.2" cy="848.8" rx="36.8" ry="28.3" fill="#c0c0c0" opacity="1" filter="url(#m12)"/>
<ellipse cx="2495.2" cy="854.4" rx="45.3" ry="25.5" fill="#cccccc" opacity="1" filter="url(#m12)"/>
<ellipse cx="2571.6" cy="840.3" rx="25.5" ry="34.0" fill="#c8c8c8" opacity="1" filter="url(#m10)"/>
<polygon points="2008.5,848.8 2022.6,871.4 2017.0,894.1 2008.5,894.1" fill="#484848" opacity="1" filter="url(#m5)"/></g>
<rect x="1494.9" y="434.3" width="11.1" height="12.2" fill="#ff0000"/>
<rect x="1519.2" y="567.2" width="11.1" height="24.2" fill="#ff0000"/>
<rect x="1856.2" y="567.0" width="10.8" height="12.1" fill="#ff0000"/>
<rect x="1916.0" y="579.1" width="12.1" height="12.2" fill="#ff0000"/>
<rect x="1916.0" y="363.0" width="12.2" height="12.2" fill="#ff0000"/>
<path d="M2131 507.2H2155.6V530.5H2143.5V542.6H2131Z" fill="#ff0000"/>
<path d="M2155.6 555.1H2192.4V567.2H2167.8V579.1H2155.6Z" fill="#ff0000"/>
<path d="M2480.2 507.2H2504.8V519.4H2492.4V530.5H2480.2Z" fill="#ff0000"/>
<rect x="2517.3" y="530.5" width="11.8" height="24.3" fill="#ff0000"/>
<rect x="2432.9" y="542.6" width="12.2" height="12.2" fill="#ff0000"/>
<rect x="2408.3" y="554.8" width="12.5" height="12.4" fill="#ff0000"/>
</g>
<g id="connectors">
<circle cx="1011.7" cy="700" r="76.5" fill="none" stroke="#000" stroke-width="9.5"/>
<path d="M1011.7 776V902A23 23 0 0 1 988.7 925H674.4A23 23 0 0 0 651.4 948V1085" fill="none" stroke="#000" stroke-width="9.5"/>
<circle cx="1505.9" cy="546.7" r="80" fill="none" stroke="#000" stroke-width="9.5"/>
<circle cx="1900.5" cy="546.7" r="80" fill="none" stroke="#000" stroke-width="9.5"/>
<circle cx="2152.5" cy="546.7" r="80" fill="none" stroke="#000" stroke-width="9.5"/>
<circle cx="2465" cy="546.7" r="80" fill="none" stroke="#000" stroke-width="9.5"/>
<path d="M1506.2 467V258A23 23 0 0 1 1529.2 235H1669A23 23 0 0 1 1692 258V900A23 23 0 0 1 1669 923H1650A23 23 0 0 0 1627 946V1085" fill="none" stroke="#000" stroke-width="9.5"/>
<path d="M2152.5 467V258A23 23 0 0 0 2129.5 235H1715A23 23 0 0 0 1692 258" fill="none" stroke="#000" stroke-width="9.5"/>
<path d="M1900.5 626V900A23 23 0 0 0 1923.5 923H2581A23 23 0 0 1 2604 946V1085" fill="none" stroke="#000" stroke-width="9.5"/>
<path d="M2465 626V900A23 23 0 0 0 2488 923" fill="none" stroke="#000" stroke-width="9.5"/>
<path d="M618 1082.2H684L651 1139.2Z" fill="#000"/>
<path d="M1593.8 1082.2H1659.8L1626.8 1139.2Z" fill="#000"/>
<path d="M2571.2 1082.2H2637.2L2604.2 1139.2Z" fill="#000"/>
</g>
<g id="charts">
<rect x="249.9" y="1563.7" width="103.8" height="652.3" fill="#FD9A05"/>
<rect x="424.5" y="1448.0" width="103.8" height="768.0" fill="#0366CC"/>
<rect x="598.9" y="1506.0" width="103.8" height="710.0" fill="#E82221"/>
<rect x="773.9" y="1619.0" width="103.8" height="597.0" fill="#4CB518"/>
<path d="M271.8 1506.5h60M301.8 1506.5V1559.2" stroke="#000" stroke-width="5.5" fill="none"/>
<path d="M446.4 1384.0h60M476.4 1384.0V1443.5" stroke="#000" stroke-width="5.5" fill="none"/>
<path d="M620.8 1459.0h60M650.8 1459.0V1501.5" stroke="#000" stroke-width="5.5" fill="none"/>
<path d="M795.8 1568.0h60M825.8 1568.0V1614.5" stroke="#000" stroke-width="5.5" fill="none"/>
<path d="M152 1341.5H185.4V2216.0M152 2216.0H943" stroke="#000" stroke-width="6.8" fill="none" stroke-linejoin="miter"/>
<text x="0" y="0" font-size="57" text-anchor="end" font-family="Liberation Sans, sans-serif" transform="translate(143.3 2240.9) scale(0.965 1)">0</text>
<path d="M152 1924.5H185.4" stroke="#000" stroke-width="6.8"/>
<text x="0" y="0" font-size="57" text-anchor="end" font-family="Liberation Sans, sans-serif" transform="translate(143.3 1949.4) scale(0.965 1)">20</text>
<path d="M152 1633.0H185.4" stroke="#000" stroke-width="6.8"/>
<text x="0" y="0" font-size="57" text-anchor="end" font-family="Liberation Sans, sans-serif" transform="translate(143.3 1657.9) scale(0.965 1)">40</text>
<text x="0" y="0" font-size="57" text-anchor="end" font-family="Liberation Sans, sans-serif" transform="translate(143.3 1366.4) scale(0.965 1)">60</text>
<path d="M301 2216.0V2249.5" stroke="#000" stroke-width="6.8"/>
<text x="0" y="0" font-size="56.5" text-anchor="middle" font-family="Liberation Sans, sans-serif" transform="translate(304.0 2307.3) scale(0.888 1)">HC</text>
<path d="M476 2216.0V2249.5" stroke="#000" stroke-width="6.8"/>
<text x="0" y="0" font-size="56.5" text-anchor="middle" font-family="Liberation Sans, sans-serif" transform="translate(475.0 2307.3) scale(0.888 1)">TP1</text>
<path d="M651 2216.0V2249.5" stroke="#000" stroke-width="6.8"/>
<text x="0" y="0" font-size="56.5" text-anchor="middle" font-family="Liberation Sans, sans-serif" transform="translate(650.0 2307.3) scale(0.888 1)">TP2</text>
<path d="M826 2216.0V2249.5" stroke="#000" stroke-width="6.8"/>
<text x="0" y="0" font-size="56.5" text-anchor="middle" font-family="Liberation Sans, sans-serif" transform="translate(825.0 2307.3) scale(0.888 1)">TP3</text>
<text x="0" y="0" font-size="55" text-anchor="start" textLength="178.9" lengthAdjust="spacingAndGlyphs" font-family="Liberation Sans, sans-serif" transform="translate(62.4 2103.9) rotate(-90)">R Insula</text>
<text x="0" y="0" font-size="55" text-anchor="start" textLength="443.9" lengthAdjust="spacingAndGlyphs" font-family="Liberation Sans, sans-serif" transform="translate(62.4 1909.4) rotate(-90)">(CBF ml/100g/min)</text>
<path d="M302 1476V1291A13 13 0 0 1 315 1278H454.4A13 13 0 0 1 467.4 1291V1354" fill="none" stroke="#000" stroke-width="6.5"/>
<path d="M485.6 1354V1291A13 13 0 0 1 498.6 1278H813A13 13 0 0 1 826 1291V1538.6" fill="none" stroke="#000" stroke-width="6.5"/>
<text x="0" y="0" font-size="101" font-weight="bold" text-anchor="middle" stroke="#000" stroke-width="2.6" font-family="DejaVu Sans, sans-serif" transform="translate(355.4 1266) scale(0.95 1)">*</text>
<text x="0" y="0" font-size="101" font-weight="bold" text-anchor="middle" stroke="#000" stroke-width="2.6" font-family="DejaVu Sans, sans-serif" transform="translate(414.2 1266) scale(0.95 1)">*</text>
<text x="0" y="0" font-size="101" font-weight="bold" text-anchor="middle" stroke="#000" stroke-width="2.6" font-family="DejaVu Sans, sans-serif" transform="translate(622.2 1266) scale(0.95 1)">*</text>
<text x="0" y="0" font-size="101" font-weight="bold" text-anchor="middle" stroke="#000" stroke-width="2.6" font-family="DejaVu Sans, sans-serif" transform="translate(681.0 1266) scale(0.95 1)">*</text>
<rect x="1225.3" y="1735.9" width="103.8" height="480.1" fill="#FD9A05"/>
<rect x="1399.9" y="1628.2" width="103.8" height="587.8" fill="#0366CC"/>
<rect x="1574.3" y="1667.3" width="103.8" height="548.7" fill="#E82221"/>
<rect x="1749.3" y="1764.0" width="103.8" height="452.0" fill="#4CB518"/>
<path d="M1247.2 1688.2h60M1277.2 1688.2V1731.4" stroke="#000" stroke-width="5.5" fill="none"/>
<path d="M1421.8 1575.5h60M1451.8 1575.5V1623.7" stroke="#000" stroke-width="5.5" fill="none"/>
<path d="M1596.2 1620.0h60M1626.2 1620.0V1662.8" stroke="#000" stroke-width="5.5" fill="none"/>
<path d="M1771.2 1722.7h60M1801.2 1722.7V1759.5" stroke="#000" stroke-width="5.5" fill="none"/>
<path d="M1127.4 1341.5H1160.8V2216.0M1127.4 2216.0H1918.4" stroke="#000" stroke-width="6.8" fill="none" stroke-linejoin="miter"/>
<text x="0" y="0" font-size="57" text-anchor="end" font-family="Liberation Sans, sans-serif" transform="translate(1118.7 2240.9) scale(0.965 1)">0</text>
<path d="M1127.4 1997.4H1160.8" stroke="#000" stroke-width="6.8"/>
<text x="0" y="0" font-size="57" text-anchor="end" font-family="Liberation Sans, sans-serif" transform="translate(1118.7 2022.3) scale(0.965 1)">20</text>
<path d="M1127.4 1778.8H1160.8" stroke="#000" stroke-width="6.8"/>
<text x="0" y="0" font-size="57" text-anchor="end" font-family="Liberation Sans, sans-serif" transform="translate(1118.7 1803.7) scale(0.965 1)">40</text>
<path d="M1127.4 1560.1H1160.8" stroke="#000" stroke-width="6.8"/>
<text x="0" y="0" font-size="57" text-anchor="end" font-family="Liberation Sans, sans-serif" transform="translate(1118.7 1585.0) scale(0.965 1)">60</text>
<text x="0" y="0" font-size="57" text-anchor="end" font-family="Liberation Sans, sans-serif" transform="translate(1118.7 1366.4) scale(0.965 1)">80</text>
<path d="M1276.4 2216.0V2249.5" stroke="#000" stroke-width="6.8"/>
<text x="0" y="0" font-size="56.5" text-anchor="middle" font-family="Liberation Sans, sans-serif" transform="translate(1279.4 2307.3) scale(0.888 1)">HC</text>
<path d="M1451.4 2216.0V2249.5" stroke="#000" stroke-width="6.8"/>
<text x="0" y="0" font-size="56.5" text-anchor="middle" font-family="Liberation Sans, sans-serif" transform="translate(1450.4 2307.3) scale(0.888 1)">TP1</text>
<path d="M1626.4 2216.0V2249.5" stroke="#000" stroke-width="6.8"/>
<text x="0" y="0" font-size="56.5" text-anchor="middle" font-family="Liberation Sans, sans-serif" transform="translate(1625.4 2307.3) scale(0.888 1)">TP2</text>
<path d="M1801.4 2216.0V2249.5" stroke="#000" stroke-width="6.8"/>
<text x="0" y="0" font-size="56.5" text-anchor="middle" font-family="Liberation Sans, sans-serif" transform="translate(1800.4 2307.3) scale(0.888 1)">TP3</text>
<text x="0" y="0" font-size="55" text-anchor="start" textLength="359.5" lengthAdjust="spacingAndGlyphs" font-family="Liberation Sans, sans-serif" transform="translate(1037.8 2192.5) rotate(-90)">L Hippocampus</text>
<text x="0" y="0" font-size="55" text-anchor="start" textLength="443.9" lengthAdjust="spacingAndGlyphs" font-family="Liberation Sans, sans-serif" transform="translate(1037.8 1819.4) rotate(-90)">(CBF ml/100g/min)</text>
<path d="M1277.4 1658V1342A13 13 0 0 1 1290.4 1329H1429.8A13 13 0 0 1 1442.8 1342V1545.5" fill="none" stroke="#000" stroke-width="6.5"/>
<path d="M1461.0 1545.5V1291A13 13 0 0 1 1474.0 1278H1788.4A13 13 0 0 1 1801.4 1291V1693.2" fill="none" stroke="#000" stroke-width="6.5"/>
<text x="0" y="0" font-size="101" font-weight="bold" text-anchor="middle" stroke="#000" stroke-width="2.6" font-family="DejaVu Sans, sans-serif" transform="translate(1331.3 1317) scale(0.95 1)">*</text>
<text x="0" y="0" font-size="101" font-weight="bold" text-anchor="middle" stroke="#000" stroke-width="2.6" font-family="DejaVu Sans, sans-serif" transform="translate(1390.1 1317) scale(0.95 1)">*</text>
<text x="0" y="0" font-size="101" font-weight="bold" text-anchor="middle" stroke="#000" stroke-width="2.6" font-family="DejaVu Sans, sans-serif" transform="translate(1626.7 1266) scale(0.95 1)">*</text>
<rect x="2203.1" y="1709.0" width="103.8" height="507.0" fill="#FD9A05"/>
<rect x="2377.7" y="1594.0" width="103.8" height="622.0" fill="#0366CC"/>
<rect x="2552.1" y="1653.2" width="103.8" height="562.8" fill="#E82221"/>
<rect x="2727.1" y="1742.3" width="103.8" height="473.7" fill="#4CB518"/>
<path d="M2225.0 1662.7h60M2255.0 1662.7V1704.5" stroke="#000" stroke-width="5.5" fill="none"/>
<path d="M2399.6 1539.5h60M2429.6 1539.5V1589.5" stroke="#000" stroke-width="5.5" fill="none"/>
<path d="M2574.0 1600.0h60M2604.0 1600.0V1648.7" stroke="#000" stroke-width="5.5" fill="none"/>
<path d="M2749.0 1699.5h60M2779.0 1699.5V1737.8" stroke="#000" stroke-width="5.5" fill="none"/>
<path d="M2105.2 1341.5H2138.6V2216.0M2105.2 2216.0H2896.2" stroke="#000" stroke-width="6.8" fill="none" stroke-linejoin="miter"/>
<text x="0" y="0" font-size="57" text-anchor="end" font-family="Liberation Sans, sans-serif" transform="translate(2096.5 2240.9) scale(0.965 1)">0</text>
<path d="M2105.2 1997.4H2138.6" stroke="#000" stroke-width="6.8"/>
<text x="0" y="0" font-size="57" text-anchor="end" font-family="Liberation Sans, sans-serif" transform="translate(2096.5 2022.3) scale(0.965 1)">20</text>
<path d="M2105.2 1778.8H2138.6" stroke="#000" stroke-width="6.8"/>
<text x="0" y="0" font-size="57" text-anchor="end" font-family="Liberation Sans, sans-serif" transform="translate(2096.5 1803.7) scale(0.965 1)">40</text>
<path d="M2105.2 1560.1H2138.6" stroke="#000" stroke-width="6.8"/>
<text x="0" y="0" font-size="57" text-anchor="end" font-family="Liberation Sans, sans-serif" transform="translate(2096.5 1585.0) scale(0.965 1)">60</text>
<text x="0" y="0" font-size="57" text-anchor="end" font-family="Liberation Sans, sans-serif" transform="translate(2096.5 1366.4) scale(0.965 1)">80</text>
<path d="M2254.2 2216.0V2249.5" stroke="#000" stroke-width="6.8"/>
<text x="0" y="0" font-size="56.5" text-anchor="middle" font-family="Liberation Sans, sans-serif" transform="translate(2257.2 2307.3) scale(0.888 1)">HC</text>
<path d="M2429.2 2216.0V2249.5" stroke="#000" stroke-width="6.8"/>
<text x="0" y="0" font-size="56.5" text-anchor="middle" font-family="Liberation Sans, sans-serif" transform="translate(2428.2 2307.3) scale(0.888 1)">TP1</text>
<path d="M2604.2 2216.0V2249.5" stroke="#000" stroke-width="6.8"/>
<text x="0" y="0" font-size="56.5" text-anchor="middle" font-family="Liberation Sans, sans-serif" transform="translate(2603.2 2307.3) scale(0.888 1)">TP2</text>
<path d="M2779.2 2216.0V2249.5" stroke="#000" stroke-width="6.8"/>
<text x="0" y="0" font-size="56.5" text-anchor="middle" font-family="Liberation Sans, sans-serif" transform="translate(2778.2 2307.3) scale(0.888 1)">TP3</text>
<text x="0" y="0" font-size="55" text-anchor="start" textLength="363.7" lengthAdjust="spacingAndGlyphs" font-family="Liberation Sans, sans-serif" transform="translate(2015.6000000000001 2195.7) rotate(-90)">R Hippocampus</text>
<text x="0" y="0" font-size="55" text-anchor="start" textLength="444.0" lengthAdjust="spacingAndGlyphs" font-family="Liberation Sans, sans-serif" transform="translate(2015.6000000000001 1818.0) rotate(-90)">(CBF ml/100g/min)</text>
<path d="M2255.2 1631.8V1342A13 13 0 0 1 2268.2 1329H2407.6A13 13 0 0 1 2420.6 1342V1509" fill="none" stroke="#000" stroke-width="6.5"/>
<path d="M2438.8 1509V1291A13 13 0 0 1 2451.8 1278H2766.2A13 13 0 0 1 2779.2 1291V1669" fill="none" stroke="#000" stroke-width="6.5"/>
<text x="0" y="0" font-size="101" font-weight="bold" text-anchor="middle" stroke="#000" stroke-width="2.6" font-family="DejaVu Sans, sans-serif" transform="translate(2308.1 1317) scale(0.95 1)">*</text>
<text x="0" y="0" font-size="101" font-weight="bold" text-anchor="middle" stroke="#000" stroke-width="2.6" font-family="DejaVu Sans, sans-serif" transform="translate(2366.9 1317) scale(0.95 1)">*</text>
<text x="0" y="0" font-size="101" font-weight="bold" text-anchor="middle" stroke="#000" stroke-width="2.6" font-family="DejaVu Sans, sans-serif" transform="translate(2602.6 1266) scale(0.95 1)">*</text>
</g>
</svg>
</body></html>
